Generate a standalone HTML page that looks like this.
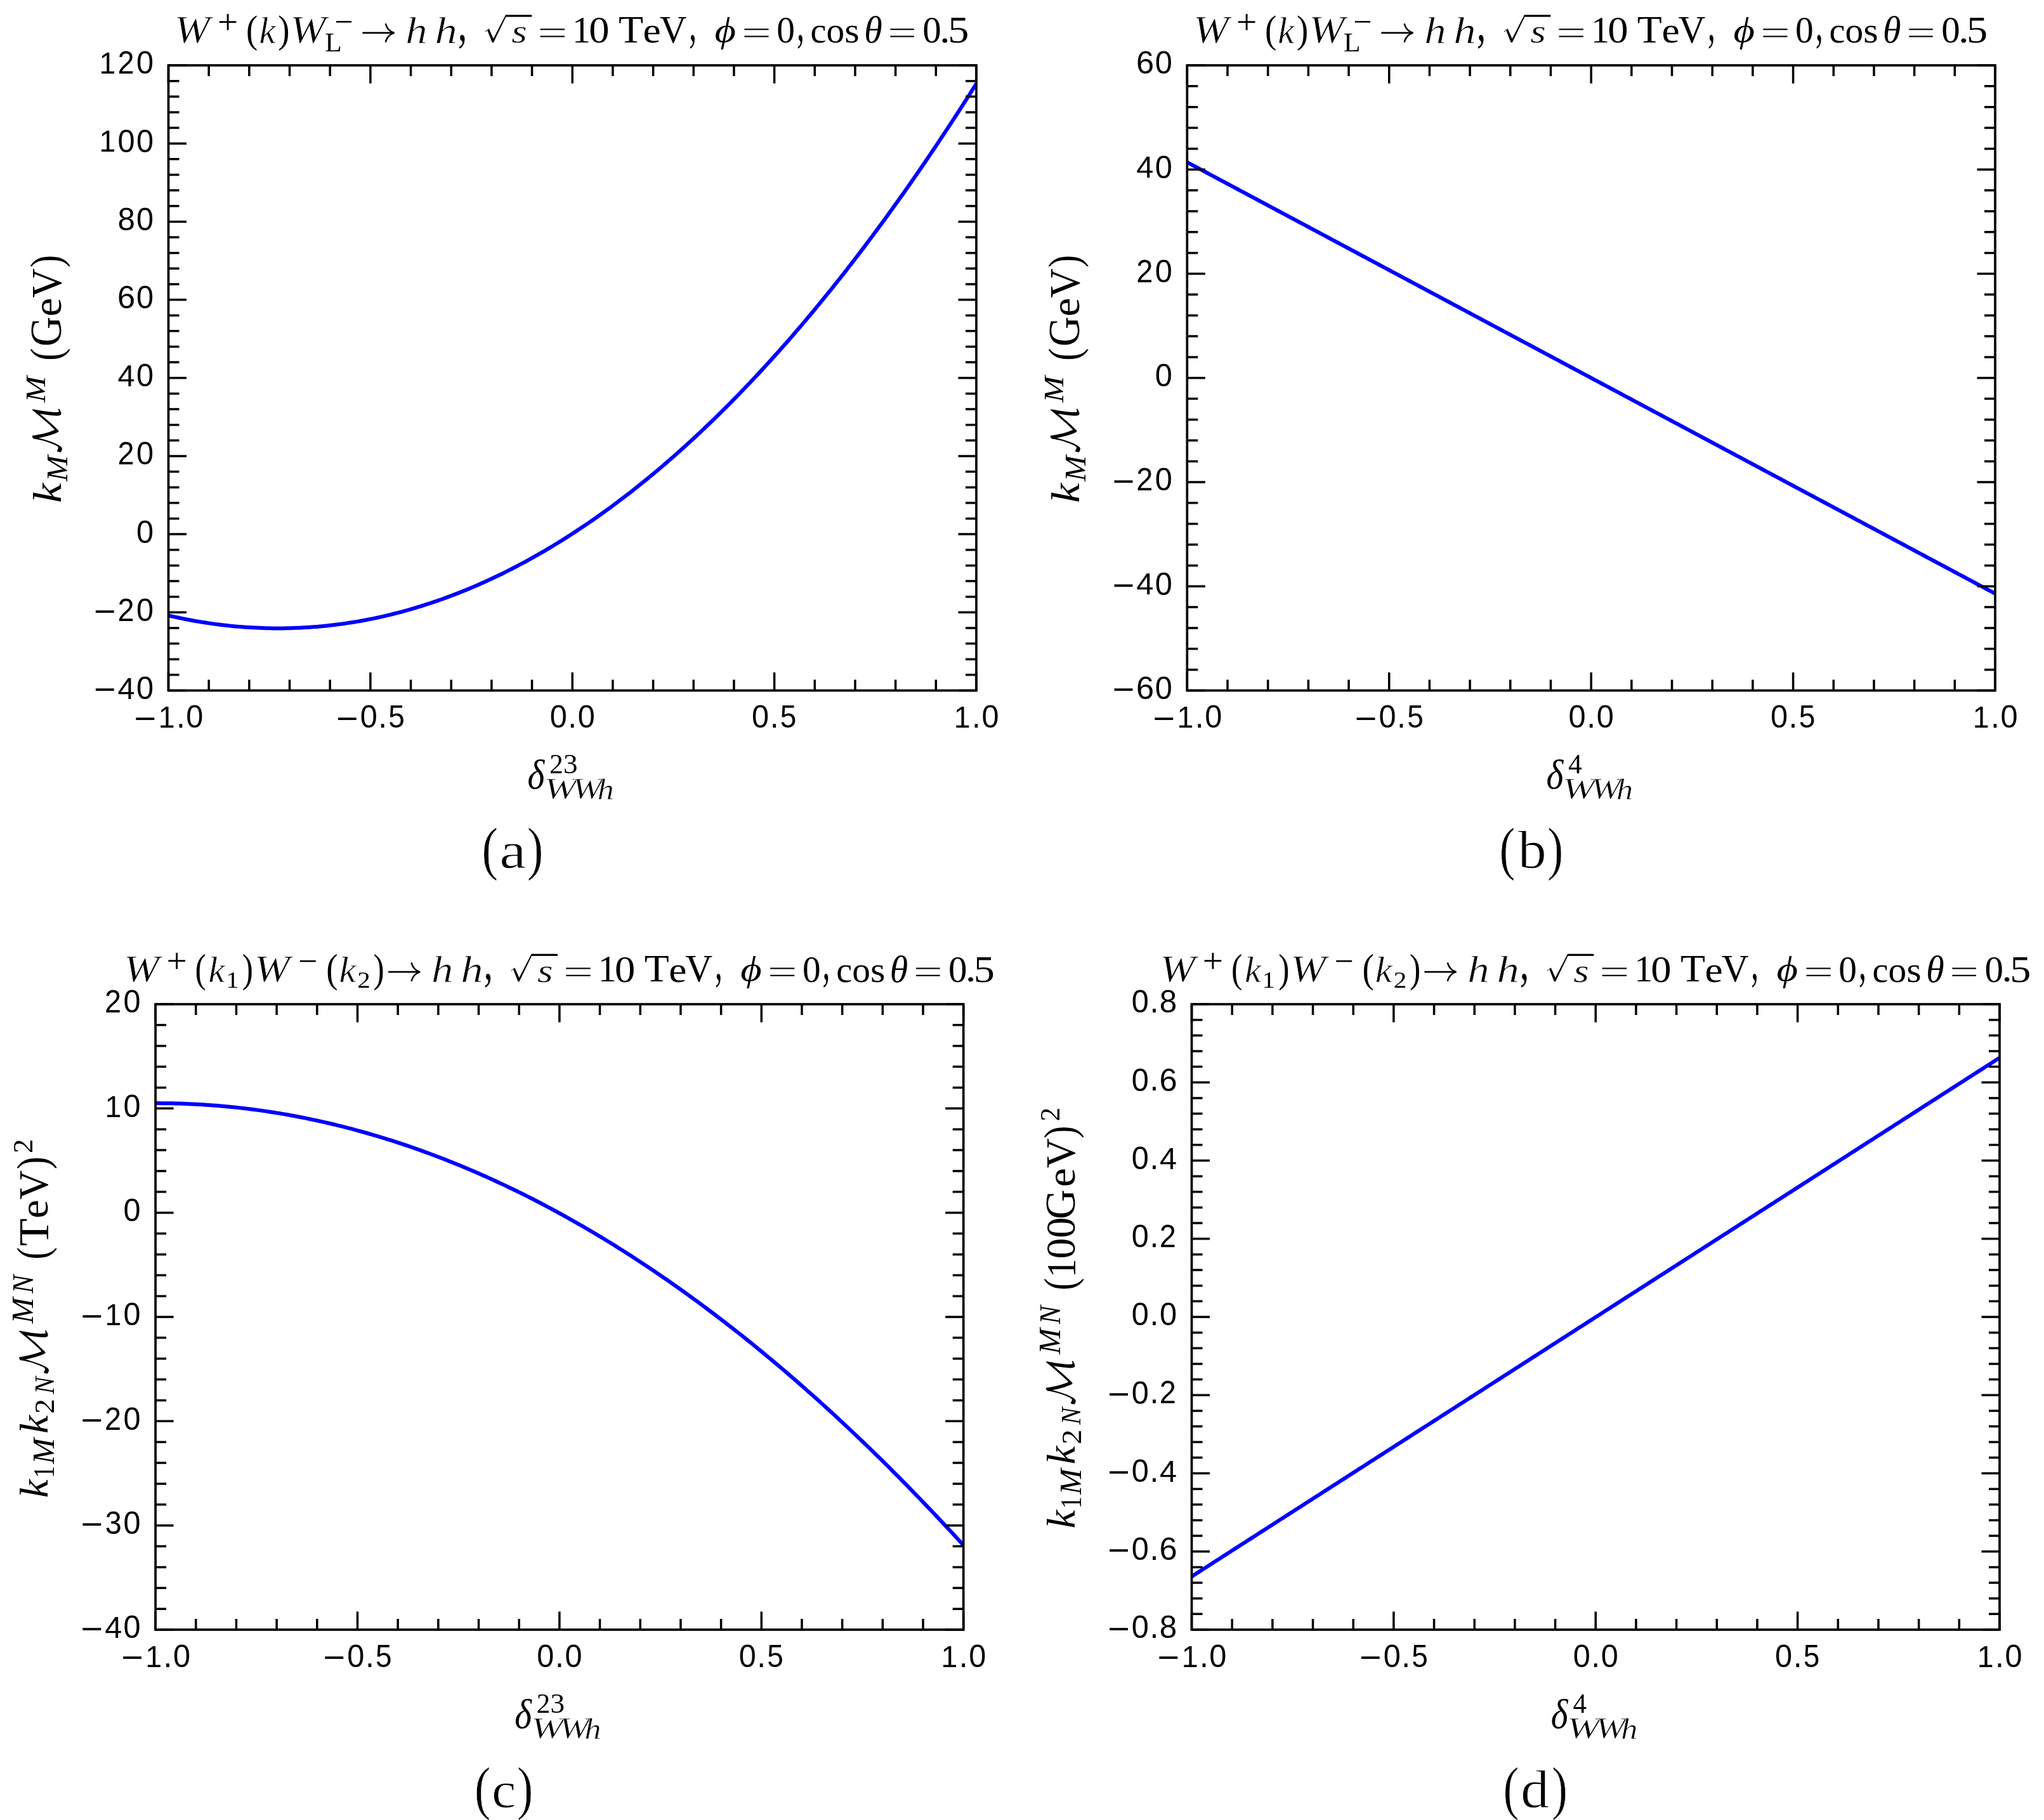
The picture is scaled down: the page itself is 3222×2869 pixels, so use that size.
<!DOCTYPE html>
<html><head><meta charset="utf-8"><title>amplitude plots</title>
<style>html,body{margin:0;padding:0;background:#fff;}svg{display:block;will-change:transform;}</style></head>
<body><svg width="3222" height="2869" viewBox="0 0 3222 2869">
<rect width="3222" height="2869" fill="#fff"/>
<clipPath id="clipa"><rect x="265.50" y="103.00" width="1273.50" height="985.50"/></clipPath>
<polyline clip-path="url(#clipa)" fill="none" stroke="#0000ff" stroke-width="6.0" stroke-linejoin="round" points="265.50,970.24 270.81,971.46 276.11,972.64 281.42,973.78 286.73,974.88 292.03,975.95 297.34,976.98 302.64,977.97 307.95,978.93 313.26,979.84 318.56,980.72 323.87,981.56 329.17,982.36 334.48,983.13 339.79,983.85 345.09,984.54 350.40,985.19 355.71,985.81 361.01,986.38 366.32,986.92 371.62,987.42 376.93,987.88 382.24,988.30 387.54,988.68 392.85,989.03 398.16,989.34 403.46,989.61 408.77,989.84 414.08,990.03 419.38,990.19 424.69,990.31 429.99,990.39 435.30,990.43 440.61,990.43 445.91,990.39 451.22,990.32 456.53,990.20 461.83,990.05 467.14,989.86 472.44,989.64 477.75,989.37 483.06,989.06 488.36,988.72 493.67,988.34 498.98,987.92 504.28,987.46 509.59,986.96 514.89,986.42 520.20,985.85 525.51,985.23 530.81,984.58 536.12,983.89 541.42,983.16 546.73,982.39 552.04,981.58 557.34,980.73 562.65,979.85 567.96,978.92 573.26,977.96 578.57,976.96 583.88,975.91 589.18,974.83 594.49,973.71 599.79,972.56 605.10,971.36 610.41,970.12 615.71,968.85 621.02,967.53 626.33,966.18 631.63,964.79 636.94,963.35 642.24,961.88 647.55,960.37 652.86,958.82 658.16,957.23 663.47,955.61 668.77,953.94 674.08,952.23 679.39,950.49 684.69,948.70 690.00,946.88 695.31,945.01 700.61,943.11 705.92,941.16 711.22,939.18 716.53,937.16 721.84,935.10 727.14,933.00 732.45,930.86 737.76,928.68 743.06,926.46 748.37,924.20 753.67,921.90 758.98,919.56 764.29,917.18 769.59,914.76 774.90,912.30 780.21,909.80 785.51,907.27 790.82,904.69 796.12,902.07 801.43,899.41 806.74,896.72 812.04,893.98 817.35,891.20 822.66,888.39 827.96,885.53 833.27,882.63 838.58,879.70 843.88,876.72 849.19,873.70 854.49,870.65 859.80,867.55 865.11,864.41 870.41,861.23 875.72,858.02 881.02,854.76 886.33,851.46 891.64,848.12 896.94,844.74 902.25,841.32 907.56,837.87 912.86,834.37 918.17,830.83 923.48,827.25 928.78,823.63 934.09,819.96 939.39,816.26 944.70,812.52 950.01,808.74 955.31,804.92 960.62,801.05 965.93,797.15 971.23,793.20 976.54,789.22 981.84,785.19 987.15,781.13 992.46,777.02 997.76,772.87 1003.07,768.68 1008.38,764.45 1013.68,760.18 1018.99,755.87 1024.29,751.52 1029.60,747.13 1034.91,742.69 1040.21,738.22 1045.52,733.71 1050.83,729.15 1056.13,724.55 1061.44,719.91 1066.74,715.24 1072.05,710.52 1077.36,705.75 1082.66,700.95 1087.97,696.11 1093.28,691.23 1098.58,686.30 1103.89,681.33 1109.19,676.33 1114.50,671.28 1119.81,666.19 1125.11,661.06 1130.42,655.88 1135.72,650.67 1141.03,645.42 1146.34,640.12 1151.64,634.78 1156.95,629.40 1162.26,623.98 1167.56,618.52 1172.87,613.02 1178.17,607.47 1183.48,601.89 1188.79,596.26 1194.09,590.59 1199.40,584.88 1204.71,579.13 1210.01,573.33 1215.32,567.50 1220.62,561.62 1225.93,555.70 1231.24,549.74 1236.54,543.74 1241.85,537.69 1247.16,531.61 1252.46,525.48 1257.77,519.31 1263.08,513.10 1268.38,506.85 1273.69,500.55 1278.99,494.22 1284.30,487.84 1289.61,481.42 1294.91,474.95 1300.22,468.45 1305.53,461.90 1310.83,455.32 1316.14,448.69 1321.44,442.01 1326.75,435.30 1332.06,428.54 1337.36,421.74 1342.67,414.90 1347.97,408.02 1353.28,401.09 1358.59,394.13 1363.89,387.12 1369.20,380.06 1374.51,372.97 1379.81,365.83 1385.12,358.65 1390.42,351.43 1395.73,344.17 1401.04,336.86 1406.34,329.51 1411.65,322.12 1416.96,314.69 1422.26,307.21 1427.57,299.70 1432.88,292.13 1438.18,284.53 1443.49,276.89 1448.79,269.20 1454.10,261.47 1459.41,253.69 1464.71,245.87 1470.02,238.02 1475.33,230.11 1480.63,222.17 1485.94,214.18 1491.24,206.15 1496.55,198.08 1501.86,189.96 1507.16,181.80 1512.47,173.60 1517.77,165.36 1523.08,157.07 1528.39,148.74 1533.69,140.37 1539.00,131.95"/>
<path fill="none" stroke="#000" stroke-width="3.50" d="M265.50 1088.50v-28.50M265.50 103.00v28.50M329.17 1088.50v-17.00M329.17 103.00v17.00M392.85 1088.50v-17.00M392.85 103.00v17.00M456.53 1088.50v-17.00M456.53 103.00v17.00M520.20 1088.50v-17.00M520.20 103.00v17.00M583.88 1088.50v-28.50M583.88 103.00v28.50M647.55 1088.50v-17.00M647.55 103.00v17.00M711.23 1088.50v-17.00M711.23 103.00v17.00M774.90 1088.50v-17.00M774.90 103.00v17.00M838.58 1088.50v-17.00M838.58 103.00v17.00M902.25 1088.50v-28.50M902.25 103.00v28.50M965.93 1088.50v-17.00M965.93 103.00v17.00M1029.60 1088.50v-17.00M1029.60 103.00v17.00M1093.28 1088.50v-17.00M1093.28 103.00v17.00M1156.95 1088.50v-17.00M1156.95 103.00v17.00M1220.62 1088.50v-28.50M1220.62 103.00v28.50M1284.30 1088.50v-17.00M1284.30 103.00v17.00M1347.98 1088.50v-17.00M1347.98 103.00v17.00M1411.65 1088.50v-17.00M1411.65 103.00v17.00M1475.33 1088.50v-17.00M1475.33 103.00v17.00M1539.00 1088.50v-28.50M1539.00 103.00v28.50M265.50 1088.50h28.50M1539.00 1088.50h-28.50M265.50 1063.86h17.00M1539.00 1063.86h-17.00M265.50 1039.22h17.00M1539.00 1039.22h-17.00M265.50 1014.59h17.00M1539.00 1014.59h-17.00M265.50 989.95h17.00M1539.00 989.95h-17.00M265.50 965.31h28.50M1539.00 965.31h-28.50M265.50 940.67h17.00M1539.00 940.67h-17.00M265.50 916.04h17.00M1539.00 916.04h-17.00M265.50 891.40h17.00M1539.00 891.40h-17.00M265.50 866.76h17.00M1539.00 866.76h-17.00M265.50 842.12h28.50M1539.00 842.12h-28.50M265.50 817.49h17.00M1539.00 817.49h-17.00M265.50 792.85h17.00M1539.00 792.85h-17.00M265.50 768.21h17.00M1539.00 768.21h-17.00M265.50 743.58h17.00M1539.00 743.58h-17.00M265.50 718.94h28.50M1539.00 718.94h-28.50M265.50 694.30h17.00M1539.00 694.30h-17.00M265.50 669.66h17.00M1539.00 669.66h-17.00M265.50 645.02h17.00M1539.00 645.02h-17.00M265.50 620.39h17.00M1539.00 620.39h-17.00M265.50 595.75h28.50M1539.00 595.75h-28.50M265.50 571.11h17.00M1539.00 571.11h-17.00M265.50 546.47h17.00M1539.00 546.47h-17.00M265.50 521.84h17.00M1539.00 521.84h-17.00M265.50 497.20h17.00M1539.00 497.20h-17.00M265.50 472.56h28.50M1539.00 472.56h-28.50M265.50 447.92h17.00M1539.00 447.92h-17.00M265.50 423.29h17.00M1539.00 423.29h-17.00M265.50 398.65h17.00M1539.00 398.65h-17.00M265.50 374.01h17.00M1539.00 374.01h-17.00M265.50 349.38h28.50M1539.00 349.38h-28.50M265.50 324.74h17.00M1539.00 324.74h-17.00M265.50 300.10h17.00M1539.00 300.10h-17.00M265.50 275.46h17.00M1539.00 275.46h-17.00M265.50 250.83h17.00M1539.00 250.83h-17.00M265.50 226.19h28.50M1539.00 226.19h-28.50M265.50 201.55h17.00M1539.00 201.55h-17.00M265.50 176.91h17.00M1539.00 176.91h-17.00M265.50 152.28h17.00M1539.00 152.28h-17.00M265.50 127.64h17.00M1539.00 127.64h-17.00M265.50 103.00h28.50M1539.00 103.00h-28.50"/>
<rect x="265.50" y="103.00" width="1273.50" height="985.50" fill="none" stroke="#000" stroke-width="3.70"/>
<text transform="matrix(0.59526 0 0 0.53795 211.37 1150.71)" font-family='"Liberation Sans", sans-serif' font-style="normal" font-size="100">−</text>
<text transform="matrix(0.46514 0 0 0.48954 249.65 1147.30)" font-family='"Liberation Sans", sans-serif' font-style="normal" font-size="100">1</text>
<text transform="matrix(0.49991 0 0 0.53584 277.89 1147.30)" font-family='"Liberation Sans", sans-serif' font-style="normal" font-size="100">.</text>
<text transform="matrix(0.48701 0 0 0.49354 293.34 1147.47)" font-family='"Liberation Sans", sans-serif' font-style="normal" font-size="100">0</text>
<text transform="matrix(0.59526 0 0 0.53795 529.74 1150.71)" font-family='"Liberation Sans", sans-serif' font-style="normal" font-size="100">−</text>
<text transform="matrix(0.48701 0 0 0.49354 567.64 1147.47)" font-family='"Liberation Sans", sans-serif' font-style="normal" font-size="100">0</text>
<text transform="matrix(0.49991 0 0 0.53584 596.26 1147.30)" font-family='"Liberation Sans", sans-serif' font-style="normal" font-size="100">.</text>
<text transform="matrix(0.45962 0 0 0.49207 612.30 1147.47)" font-family='"Liberation Sans", sans-serif' font-style="normal" font-size="100">5</text>
<text transform="matrix(0.48701 0 0 0.49354 866.66 1147.47)" font-family='"Liberation Sans", sans-serif' font-style="normal" font-size="100">0</text>
<text transform="matrix(0.49991 0 0 0.53584 895.28 1147.30)" font-family='"Liberation Sans", sans-serif' font-style="normal" font-size="100">.</text>
<text transform="matrix(0.48701 0 0 0.49354 910.74 1147.47)" font-family='"Liberation Sans", sans-serif' font-style="normal" font-size="100">0</text>
<text transform="matrix(0.48701 0 0 0.49354 1185.03 1147.47)" font-family='"Liberation Sans", sans-serif' font-style="normal" font-size="100">0</text>
<text transform="matrix(0.49991 0 0 0.53584 1213.66 1147.30)" font-family='"Liberation Sans", sans-serif' font-style="normal" font-size="100">.</text>
<text transform="matrix(0.45962 0 0 0.49207 1229.69 1147.47)" font-family='"Liberation Sans", sans-serif' font-style="normal" font-size="100">5</text>
<text transform="matrix(0.46514 0 0 0.48954 1503.80 1147.30)" font-family='"Liberation Sans", sans-serif' font-style="normal" font-size="100">1</text>
<text transform="matrix(0.49991 0 0 0.53584 1532.03 1147.30)" font-family='"Liberation Sans", sans-serif' font-style="normal" font-size="100">.</text>
<text transform="matrix(0.48701 0 0 0.49354 1547.49 1147.47)" font-family='"Liberation Sans", sans-serif' font-style="normal" font-size="100">0</text>
<text transform="matrix(0.59526 0 0 0.53795 147.66 1105.11)" font-family='"Liberation Sans", sans-serif' font-style="normal" font-size="100">−</text>
<text transform="matrix(0.48707 0 0 0.48954 185.55 1101.70)" font-family='"Liberation Sans", sans-serif' font-style="normal" font-size="100">4</text>
<text transform="matrix(0.48701 0 0 0.49354 214.95 1101.87)" font-family='"Liberation Sans", sans-serif' font-style="normal" font-size="100">0</text>
<text transform="matrix(0.59526 0 0 0.53795 147.66 981.92)" font-family='"Liberation Sans", sans-serif' font-style="normal" font-size="100">−</text>
<text transform="matrix(0.46943 0 0 0.49108 185.44 978.51)" font-family='"Liberation Sans", sans-serif' font-style="normal" font-size="100">2</text>
<text transform="matrix(0.48701 0 0 0.49354 214.95 978.68)" font-family='"Liberation Sans", sans-serif' font-style="normal" font-size="100">0</text>
<text transform="matrix(0.48701 0 0 0.49354 214.95 855.50)" font-family='"Liberation Sans", sans-serif' font-style="normal" font-size="100">0</text>
<text transform="matrix(0.46943 0 0 0.49108 185.44 732.14)" font-family='"Liberation Sans", sans-serif' font-style="normal" font-size="100">2</text>
<text transform="matrix(0.48701 0 0 0.49354 214.95 732.31)" font-family='"Liberation Sans", sans-serif' font-style="normal" font-size="100">0</text>
<text transform="matrix(0.48707 0 0 0.48954 185.55 608.95)" font-family='"Liberation Sans", sans-serif' font-style="normal" font-size="100">4</text>
<text transform="matrix(0.48701 0 0 0.49354 214.95 609.12)" font-family='"Liberation Sans", sans-serif' font-style="normal" font-size="100">0</text>
<text transform="matrix(0.50404 0 0 0.49354 185.08 485.93)" font-family='"Liberation Sans", sans-serif' font-style="normal" font-size="100">6</text>
<text transform="matrix(0.48701 0 0 0.49354 214.95 485.93)" font-family='"Liberation Sans", sans-serif' font-style="normal" font-size="100">0</text>
<text transform="matrix(0.49229 0 0 0.49354 185.41 362.75)" font-family='"Liberation Sans", sans-serif' font-style="normal" font-size="100">8</text>
<text transform="matrix(0.48701 0 0 0.49354 214.95 362.75)" font-family='"Liberation Sans", sans-serif' font-style="normal" font-size="100">0</text>
<text transform="matrix(0.46514 0 0 0.48954 156.55 239.39)" font-family='"Liberation Sans", sans-serif' font-style="normal" font-size="100">1</text>
<text transform="matrix(0.48701 0 0 0.49354 185.56 239.56)" font-family='"Liberation Sans", sans-serif' font-style="normal" font-size="100">0</text>
<text transform="matrix(0.48701 0 0 0.49354 214.95 239.56)" font-family='"Liberation Sans", sans-serif' font-style="normal" font-size="100">0</text>
<text transform="matrix(0.46514 0 0 0.48954 156.55 116.20)" font-family='"Liberation Sans", sans-serif' font-style="normal" font-size="100">1</text>
<text transform="matrix(0.46943 0 0 0.49108 185.44 116.20)" font-family='"Liberation Sans", sans-serif' font-style="normal" font-size="100">2</text>
<text transform="matrix(0.48701 0 0 0.49354 214.95 116.37)" font-family='"Liberation Sans", sans-serif' font-style="normal" font-size="100">0</text>
<clipPath id="clipb"><rect x="1871.30" y="103.00" width="1273.70" height="985.50"/></clipPath>
<polyline clip-path="url(#clipb)" fill="none" stroke="#0000ff" stroke-width="6.0" stroke-linejoin="round" points="1871.30,255.75 1876.61,258.59 1881.91,261.42 1887.22,264.25 1892.53,267.09 1897.84,269.92 1903.14,272.75 1908.45,275.59 1913.76,278.42 1919.06,281.25 1924.37,284.09 1929.68,286.92 1934.98,289.75 1940.29,292.59 1945.60,295.42 1950.91,298.25 1956.21,301.09 1961.52,303.92 1966.83,306.75 1972.13,309.59 1977.44,312.42 1982.75,315.25 1988.06,318.09 1993.36,320.92 1998.67,323.75 2003.98,326.59 2009.28,329.42 2014.59,332.25 2019.90,335.09 2025.21,337.92 2030.51,340.75 2035.82,343.59 2041.13,346.42 2046.43,349.25 2051.74,352.09 2057.05,354.92 2062.36,357.75 2067.66,360.59 2072.97,363.42 2078.28,366.25 2083.58,369.09 2088.89,371.92 2094.20,374.75 2099.50,377.58 2104.81,380.42 2110.12,383.25 2115.43,386.08 2120.73,388.92 2126.04,391.75 2131.35,394.58 2136.65,397.42 2141.96,400.25 2147.27,403.08 2152.58,405.92 2157.88,408.75 2163.19,411.58 2168.50,414.42 2173.80,417.25 2179.11,420.08 2184.42,422.92 2189.72,425.75 2195.03,428.58 2200.34,431.42 2205.65,434.25 2210.95,437.08 2216.26,439.92 2221.57,442.75 2226.87,445.58 2232.18,448.42 2237.49,451.25 2242.80,454.08 2248.10,456.92 2253.41,459.75 2258.72,462.58 2264.02,465.42 2269.33,468.25 2274.64,471.08 2279.95,473.92 2285.25,476.75 2290.56,479.58 2295.87,482.42 2301.17,485.25 2306.48,488.08 2311.79,490.92 2317.09,493.75 2322.40,496.58 2327.71,499.42 2333.02,502.25 2338.32,505.08 2343.63,507.92 2348.94,510.75 2354.24,513.58 2359.55,516.42 2364.86,519.25 2370.17,522.08 2375.47,524.92 2380.78,527.75 2386.09,530.58 2391.39,533.42 2396.70,536.25 2402.01,539.08 2407.32,541.92 2412.62,544.75 2417.93,547.58 2423.24,550.42 2428.54,553.25 2433.85,556.08 2439.16,558.92 2444.47,561.75 2449.77,564.58 2455.08,567.42 2460.39,570.25 2465.69,573.08 2471.00,575.92 2476.31,578.75 2481.61,581.58 2486.92,584.42 2492.23,587.25 2497.54,590.08 2502.84,592.92 2508.15,595.75 2513.46,598.58 2518.76,601.42 2524.07,604.25 2529.38,607.08 2534.69,609.92 2539.99,612.75 2545.30,615.58 2550.61,618.42 2555.91,621.25 2561.22,624.08 2566.53,626.92 2571.84,629.75 2577.14,632.58 2582.45,635.42 2587.76,638.25 2593.06,641.08 2598.37,643.92 2603.68,646.75 2608.98,649.58 2614.29,652.42 2619.60,655.25 2624.91,658.08 2630.21,660.92 2635.52,663.75 2640.83,666.58 2646.13,669.42 2651.44,672.25 2656.75,675.08 2662.06,677.92 2667.36,680.75 2672.67,683.58 2677.98,686.42 2683.28,689.25 2688.59,692.08 2693.90,694.92 2699.20,697.75 2704.51,700.58 2709.82,703.42 2715.13,706.25 2720.43,709.08 2725.74,711.92 2731.05,714.75 2736.35,717.58 2741.66,720.42 2746.97,723.25 2752.28,726.08 2757.58,728.92 2762.89,731.75 2768.20,734.58 2773.50,737.42 2778.81,740.25 2784.12,743.08 2789.43,745.92 2794.73,748.75 2800.04,751.58 2805.35,754.42 2810.65,757.25 2815.96,760.08 2821.27,762.92 2826.57,765.75 2831.88,768.58 2837.19,771.42 2842.50,774.25 2847.80,777.08 2853.11,779.92 2858.42,782.75 2863.72,785.58 2869.03,788.42 2874.34,791.25 2879.65,794.08 2884.95,796.92 2890.26,799.75 2895.57,802.58 2900.87,805.42 2906.18,808.25 2911.49,811.08 2916.80,813.92 2922.10,816.75 2927.41,819.58 2932.72,822.41 2938.02,825.25 2943.33,828.08 2948.64,830.91 2953.94,833.75 2959.25,836.58 2964.56,839.41 2969.87,842.25 2975.17,845.08 2980.48,847.91 2985.79,850.75 2991.09,853.58 2996.40,856.41 3001.71,859.25 3007.02,862.08 3012.32,864.91 3017.63,867.75 3022.94,870.58 3028.24,873.41 3033.55,876.25 3038.86,879.08 3044.17,881.91 3049.47,884.75 3054.78,887.58 3060.09,890.41 3065.39,893.25 3070.70,896.08 3076.01,898.91 3081.32,901.75 3086.62,904.58 3091.93,907.41 3097.24,910.25 3102.54,913.08 3107.85,915.91 3113.16,918.75 3118.46,921.58 3123.77,924.41 3129.08,927.25 3134.39,930.08 3139.69,932.91 3145.00,935.75"/>
<path fill="none" stroke="#000" stroke-width="3.50" d="M1871.30 1088.50v-28.50M1871.30 103.00v28.50M1934.98 1088.50v-17.00M1934.98 103.00v17.00M1998.67 1088.50v-17.00M1998.67 103.00v17.00M2062.36 1088.50v-17.00M2062.36 103.00v17.00M2126.04 1088.50v-17.00M2126.04 103.00v17.00M2189.72 1088.50v-28.50M2189.72 103.00v28.50M2253.41 1088.50v-17.00M2253.41 103.00v17.00M2317.10 1088.50v-17.00M2317.10 103.00v17.00M2380.78 1088.50v-17.00M2380.78 103.00v17.00M2444.47 1088.50v-17.00M2444.47 103.00v17.00M2508.15 1088.50v-28.50M2508.15 103.00v28.50M2571.84 1088.50v-17.00M2571.84 103.00v17.00M2635.52 1088.50v-17.00M2635.52 103.00v17.00M2699.20 1088.50v-17.00M2699.20 103.00v17.00M2762.89 1088.50v-17.00M2762.89 103.00v17.00M2826.57 1088.50v-28.50M2826.57 103.00v28.50M2890.26 1088.50v-17.00M2890.26 103.00v17.00M2953.95 1088.50v-17.00M2953.95 103.00v17.00M3017.63 1088.50v-17.00M3017.63 103.00v17.00M3081.32 1088.50v-17.00M3081.32 103.00v17.00M3145.00 1088.50v-28.50M3145.00 103.00v28.50M1871.30 1088.50h28.50M3145.00 1088.50h-28.50M1871.30 1055.65h17.00M3145.00 1055.65h-17.00M1871.30 1022.80h17.00M3145.00 1022.80h-17.00M1871.30 989.95h17.00M3145.00 989.95h-17.00M1871.30 957.10h17.00M3145.00 957.10h-17.00M1871.30 924.25h28.50M3145.00 924.25h-28.50M1871.30 891.40h17.00M3145.00 891.40h-17.00M1871.30 858.55h17.00M3145.00 858.55h-17.00M1871.30 825.70h17.00M3145.00 825.70h-17.00M1871.30 792.85h17.00M3145.00 792.85h-17.00M1871.30 760.00h28.50M3145.00 760.00h-28.50M1871.30 727.15h17.00M3145.00 727.15h-17.00M1871.30 694.30h17.00M3145.00 694.30h-17.00M1871.30 661.45h17.00M3145.00 661.45h-17.00M1871.30 628.60h17.00M3145.00 628.60h-17.00M1871.30 595.75h28.50M3145.00 595.75h-28.50M1871.30 562.90h17.00M3145.00 562.90h-17.00M1871.30 530.05h17.00M3145.00 530.05h-17.00M1871.30 497.20h17.00M3145.00 497.20h-17.00M1871.30 464.35h17.00M3145.00 464.35h-17.00M1871.30 431.50h28.50M3145.00 431.50h-28.50M1871.30 398.65h17.00M3145.00 398.65h-17.00M1871.30 365.80h17.00M3145.00 365.80h-17.00M1871.30 332.95h17.00M3145.00 332.95h-17.00M1871.30 300.10h17.00M3145.00 300.10h-17.00M1871.30 267.25h28.50M3145.00 267.25h-28.50M1871.30 234.40h17.00M3145.00 234.40h-17.00M1871.30 201.55h17.00M3145.00 201.55h-17.00M1871.30 168.70h17.00M3145.00 168.70h-17.00M1871.30 135.85h17.00M3145.00 135.85h-17.00M1871.30 103.00h28.50M3145.00 103.00h-28.50"/>
<rect x="1871.30" y="103.00" width="1273.70" height="985.50" fill="none" stroke="#000" stroke-width="3.70"/>
<text transform="matrix(0.59526 0 0 0.53795 1817.17 1150.71)" font-family='"Liberation Sans", sans-serif' font-style="normal" font-size="100">−</text>
<text transform="matrix(0.46514 0 0 0.48954 1855.45 1147.30)" font-family='"Liberation Sans", sans-serif' font-style="normal" font-size="100">1</text>
<text transform="matrix(0.49991 0 0 0.53584 1883.69 1147.30)" font-family='"Liberation Sans", sans-serif' font-style="normal" font-size="100">.</text>
<text transform="matrix(0.48701 0 0 0.49354 1899.14 1147.47)" font-family='"Liberation Sans", sans-serif' font-style="normal" font-size="100">0</text>
<text transform="matrix(0.59526 0 0 0.53795 2135.59 1150.71)" font-family='"Liberation Sans", sans-serif' font-style="normal" font-size="100">−</text>
<text transform="matrix(0.48701 0 0 0.49354 2173.49 1147.47)" font-family='"Liberation Sans", sans-serif' font-style="normal" font-size="100">0</text>
<text transform="matrix(0.49991 0 0 0.53584 2202.11 1147.30)" font-family='"Liberation Sans", sans-serif' font-style="normal" font-size="100">.</text>
<text transform="matrix(0.45962 0 0 0.49207 2218.15 1147.47)" font-family='"Liberation Sans", sans-serif' font-style="normal" font-size="100">5</text>
<text transform="matrix(0.48701 0 0 0.49354 2472.56 1147.47)" font-family='"Liberation Sans", sans-serif' font-style="normal" font-size="100">0</text>
<text transform="matrix(0.49991 0 0 0.53584 2501.18 1147.30)" font-family='"Liberation Sans", sans-serif' font-style="normal" font-size="100">.</text>
<text transform="matrix(0.48701 0 0 0.49354 2516.64 1147.47)" font-family='"Liberation Sans", sans-serif' font-style="normal" font-size="100">0</text>
<text transform="matrix(0.48701 0 0 0.49354 2790.98 1147.47)" font-family='"Liberation Sans", sans-serif' font-style="normal" font-size="100">0</text>
<text transform="matrix(0.49991 0 0 0.53584 2819.61 1147.30)" font-family='"Liberation Sans", sans-serif' font-style="normal" font-size="100">.</text>
<text transform="matrix(0.45962 0 0 0.49207 2835.64 1147.47)" font-family='"Liberation Sans", sans-serif' font-style="normal" font-size="100">5</text>
<text transform="matrix(0.46514 0 0 0.48954 3109.80 1147.30)" font-family='"Liberation Sans", sans-serif' font-style="normal" font-size="100">1</text>
<text transform="matrix(0.49991 0 0 0.53584 3138.03 1147.30)" font-family='"Liberation Sans", sans-serif' font-style="normal" font-size="100">.</text>
<text transform="matrix(0.48701 0 0 0.49354 3153.49 1147.47)" font-family='"Liberation Sans", sans-serif' font-style="normal" font-size="100">0</text>
<text transform="matrix(0.59526 0 0 0.53795 1753.46 1105.11)" font-family='"Liberation Sans", sans-serif' font-style="normal" font-size="100">−</text>
<text transform="matrix(0.50404 0 0 0.49354 1790.88 1101.87)" font-family='"Liberation Sans", sans-serif' font-style="normal" font-size="100">6</text>
<text transform="matrix(0.48701 0 0 0.49354 1820.75 1101.87)" font-family='"Liberation Sans", sans-serif' font-style="normal" font-size="100">0</text>
<text transform="matrix(0.59526 0 0 0.53795 1753.46 940.86)" font-family='"Liberation Sans", sans-serif' font-style="normal" font-size="100">−</text>
<text transform="matrix(0.48707 0 0 0.48954 1791.35 937.45)" font-family='"Liberation Sans", sans-serif' font-style="normal" font-size="100">4</text>
<text transform="matrix(0.48701 0 0 0.49354 1820.75 937.62)" font-family='"Liberation Sans", sans-serif' font-style="normal" font-size="100">0</text>
<text transform="matrix(0.59526 0 0 0.53795 1753.46 776.61)" font-family='"Liberation Sans", sans-serif' font-style="normal" font-size="100">−</text>
<text transform="matrix(0.46943 0 0 0.49108 1791.24 773.20)" font-family='"Liberation Sans", sans-serif' font-style="normal" font-size="100">2</text>
<text transform="matrix(0.48701 0 0 0.49354 1820.75 773.37)" font-family='"Liberation Sans", sans-serif' font-style="normal" font-size="100">0</text>
<text transform="matrix(0.48701 0 0 0.49354 1820.75 609.12)" font-family='"Liberation Sans", sans-serif' font-style="normal" font-size="100">0</text>
<text transform="matrix(0.46943 0 0 0.49108 1791.24 444.70)" font-family='"Liberation Sans", sans-serif' font-style="normal" font-size="100">2</text>
<text transform="matrix(0.48701 0 0 0.49354 1820.75 444.87)" font-family='"Liberation Sans", sans-serif' font-style="normal" font-size="100">0</text>
<text transform="matrix(0.48707 0 0 0.48954 1791.35 280.45)" font-family='"Liberation Sans", sans-serif' font-style="normal" font-size="100">4</text>
<text transform="matrix(0.48701 0 0 0.49354 1820.75 280.62)" font-family='"Liberation Sans", sans-serif' font-style="normal" font-size="100">0</text>
<text transform="matrix(0.50404 0 0 0.49354 1790.88 116.37)" font-family='"Liberation Sans", sans-serif' font-style="normal" font-size="100">6</text>
<text transform="matrix(0.48701 0 0 0.49354 1820.75 116.37)" font-family='"Liberation Sans", sans-serif' font-style="normal" font-size="100">0</text>
<clipPath id="clipc"><rect x="245.10" y="1583.00" width="1273.60" height="986.00"/></clipPath>
<polyline clip-path="url(#clipc)" fill="none" stroke="#0000ff" stroke-width="6.0" stroke-linejoin="round" points="245.10,1739.12 250.41,1739.12 255.71,1739.14 261.02,1739.18 266.33,1739.26 271.63,1739.35 276.94,1739.47 282.25,1739.62 287.55,1739.78 292.86,1739.98 298.17,1740.20 303.47,1740.44 308.78,1740.70 314.09,1740.99 319.39,1741.31 324.70,1741.65 330.01,1742.01 335.31,1742.40 340.62,1742.81 345.93,1743.24 351.23,1743.70 356.54,1744.19 361.85,1744.70 367.15,1745.23 372.46,1745.79 377.77,1746.37 383.07,1746.98 388.38,1747.61 393.69,1748.26 398.99,1748.94 404.30,1749.64 409.61,1750.37 414.91,1751.12 420.22,1751.90 425.53,1752.70 430.83,1753.53 436.14,1754.38 441.45,1755.25 446.75,1756.15 452.06,1757.07 457.37,1758.02 462.67,1758.99 467.98,1759.98 473.29,1761.00 478.59,1762.04 483.90,1763.11 489.21,1764.20 494.51,1765.32 499.82,1766.46 505.13,1767.63 510.43,1768.82 515.74,1770.03 521.05,1771.27 526.35,1772.53 531.66,1773.82 536.97,1775.13 542.27,1776.46 547.58,1777.82 552.89,1779.21 558.19,1780.62 563.50,1782.05 568.81,1783.51 574.11,1784.99 579.42,1786.49 584.73,1788.02 590.03,1789.58 595.34,1791.15 600.65,1792.76 605.95,1794.38 611.26,1796.04 616.57,1797.71 621.87,1799.41 627.18,1801.14 632.49,1802.88 637.79,1804.66 643.10,1806.45 648.41,1808.28 653.71,1810.12 659.02,1811.99 664.33,1813.89 669.63,1815.81 674.94,1817.75 680.25,1819.72 685.55,1821.71 690.86,1823.72 696.17,1825.76 701.47,1827.83 706.78,1829.92 712.09,1832.03 717.39,1834.17 722.70,1836.33 728.01,1838.52 733.31,1840.73 738.62,1842.96 743.93,1845.22 749.23,1847.50 754.54,1849.81 759.85,1852.14 765.15,1854.50 770.46,1856.88 775.77,1859.29 781.07,1861.71 786.38,1864.17 791.69,1866.65 796.99,1869.15 802.30,1871.67 807.61,1874.23 812.91,1876.80 818.22,1879.40 823.53,1882.02 828.83,1884.67 834.14,1887.34 839.45,1890.04 844.75,1892.76 850.06,1895.51 855.37,1898.28 860.67,1901.07 865.98,1903.89 871.29,1906.73 876.59,1909.60 881.90,1912.49 887.21,1915.40 892.51,1918.34 897.82,1921.31 903.13,1924.30 908.43,1927.31 913.74,1930.35 919.05,1933.41 924.35,1936.49 929.66,1939.60 934.97,1942.74 940.27,1945.89 945.58,1949.08 950.89,1952.28 956.19,1955.52 961.50,1958.77 966.81,1962.05 972.11,1965.36 977.42,1968.68 982.73,1972.04 988.03,1975.41 993.34,1978.82 998.65,1982.24 1003.95,1985.69 1009.26,1989.17 1014.57,1992.67 1019.87,1996.19 1025.18,1999.74 1030.49,2003.31 1035.79,2006.90 1041.10,2010.52 1046.41,2014.17 1051.71,2017.84 1057.02,2021.53 1062.33,2025.25 1067.63,2028.99 1072.94,2032.76 1078.25,2036.55 1083.55,2040.36 1088.86,2044.20 1094.17,2048.06 1099.47,2051.95 1104.78,2055.86 1110.09,2059.80 1115.39,2063.76 1120.70,2067.74 1126.01,2071.75 1131.31,2075.79 1136.62,2079.85 1141.93,2083.93 1147.23,2088.03 1152.54,2092.16 1157.85,2096.32 1163.15,2100.50 1168.46,2104.70 1173.77,2108.93 1179.07,2113.18 1184.38,2117.46 1189.69,2121.76 1194.99,2126.09 1200.30,2130.44 1205.61,2134.81 1210.91,2139.21 1216.22,2143.63 1221.53,2148.08 1226.83,2152.55 1232.14,2157.04 1237.45,2161.56 1242.75,2166.11 1248.06,2170.68 1253.37,2175.27 1258.67,2179.88 1263.98,2184.53 1269.29,2189.19 1274.59,2193.88 1279.90,2198.60 1285.21,2203.33 1290.51,2208.10 1295.82,2212.88 1301.13,2217.69 1306.43,2222.53 1311.74,2227.39 1317.05,2232.27 1322.35,2237.18 1327.66,2242.12 1332.97,2247.07 1338.27,2252.06 1343.58,2257.06 1348.89,2262.09 1354.19,2267.15 1359.50,2272.22 1364.81,2277.33 1370.11,2282.45 1375.42,2287.61 1380.73,2292.78 1386.03,2297.98 1391.34,2303.21 1396.65,2308.46 1401.95,2313.73 1407.26,2319.03 1412.57,2324.35 1417.87,2329.69 1423.18,2335.07 1428.49,2340.46 1433.79,2345.88 1439.10,2351.32 1444.41,2356.79 1449.71,2362.28 1455.02,2367.80 1460.33,2373.34 1465.63,2378.90 1470.94,2384.49 1476.25,2390.11 1481.55,2395.74 1486.86,2401.41 1492.17,2407.09 1497.47,2412.80 1502.78,2418.54 1508.09,2424.30 1513.39,2430.08 1518.70,2435.89"/>
<path fill="none" stroke="#000" stroke-width="3.50" d="M245.10 2569.00v-28.50M245.10 1583.00v28.50M308.78 2569.00v-17.00M308.78 1583.00v17.00M372.46 2569.00v-17.00M372.46 1583.00v17.00M436.14 2569.00v-17.00M436.14 1583.00v17.00M499.82 2569.00v-17.00M499.82 1583.00v17.00M563.50 2569.00v-28.50M563.50 1583.00v28.50M627.18 2569.00v-17.00M627.18 1583.00v17.00M690.86 2569.00v-17.00M690.86 1583.00v17.00M754.54 2569.00v-17.00M754.54 1583.00v17.00M818.22 2569.00v-17.00M818.22 1583.00v17.00M881.90 2569.00v-28.50M881.90 1583.00v28.50M945.58 2569.00v-17.00M945.58 1583.00v17.00M1009.26 2569.00v-17.00M1009.26 1583.00v17.00M1072.94 2569.00v-17.00M1072.94 1583.00v17.00M1136.62 2569.00v-17.00M1136.62 1583.00v17.00M1200.30 2569.00v-28.50M1200.30 1583.00v28.50M1263.98 2569.00v-17.00M1263.98 1583.00v17.00M1327.66 2569.00v-17.00M1327.66 1583.00v17.00M1391.34 2569.00v-17.00M1391.34 1583.00v17.00M1455.02 2569.00v-17.00M1455.02 1583.00v17.00M1518.70 2569.00v-28.50M1518.70 1583.00v28.50M245.10 2569.00h28.50M1518.70 2569.00h-28.50M245.10 2536.13h17.00M1518.70 2536.13h-17.00M245.10 2503.27h17.00M1518.70 2503.27h-17.00M245.10 2470.40h17.00M1518.70 2470.40h-17.00M245.10 2437.53h17.00M1518.70 2437.53h-17.00M245.10 2404.67h28.50M1518.70 2404.67h-28.50M245.10 2371.80h17.00M1518.70 2371.80h-17.00M245.10 2338.93h17.00M1518.70 2338.93h-17.00M245.10 2306.07h17.00M1518.70 2306.07h-17.00M245.10 2273.20h17.00M1518.70 2273.20h-17.00M245.10 2240.33h28.50M1518.70 2240.33h-28.50M245.10 2207.47h17.00M1518.70 2207.47h-17.00M245.10 2174.60h17.00M1518.70 2174.60h-17.00M245.10 2141.73h17.00M1518.70 2141.73h-17.00M245.10 2108.87h17.00M1518.70 2108.87h-17.00M245.10 2076.00h28.50M1518.70 2076.00h-28.50M245.10 2043.13h17.00M1518.70 2043.13h-17.00M245.10 2010.27h17.00M1518.70 2010.27h-17.00M245.10 1977.40h17.00M1518.70 1977.40h-17.00M245.10 1944.53h17.00M1518.70 1944.53h-17.00M245.10 1911.67h28.50M1518.70 1911.67h-28.50M245.10 1878.80h17.00M1518.70 1878.80h-17.00M245.10 1845.93h17.00M1518.70 1845.93h-17.00M245.10 1813.07h17.00M1518.70 1813.07h-17.00M245.10 1780.20h17.00M1518.70 1780.20h-17.00M245.10 1747.33h28.50M1518.70 1747.33h-28.50M245.10 1714.47h17.00M1518.70 1714.47h-17.00M245.10 1681.60h17.00M1518.70 1681.60h-17.00M245.10 1648.73h17.00M1518.70 1648.73h-17.00M245.10 1615.87h17.00M1518.70 1615.87h-17.00M245.10 1583.00h28.50M1518.70 1583.00h-28.50"/>
<rect x="245.10" y="1583.00" width="1273.60" height="986.00" fill="none" stroke="#000" stroke-width="3.70"/>
<text transform="matrix(0.59526 0 0 0.53795 190.97 2631.21)" font-family='"Liberation Sans", sans-serif' font-style="normal" font-size="100">−</text>
<text transform="matrix(0.46514 0 0 0.48954 229.25 2627.80)" font-family='"Liberation Sans", sans-serif' font-style="normal" font-size="100">1</text>
<text transform="matrix(0.49991 0 0 0.53584 257.49 2627.80)" font-family='"Liberation Sans", sans-serif' font-style="normal" font-size="100">.</text>
<text transform="matrix(0.48701 0 0 0.49354 272.94 2627.97)" font-family='"Liberation Sans", sans-serif' font-style="normal" font-size="100">0</text>
<text transform="matrix(0.59526 0 0 0.53795 509.37 2631.21)" font-family='"Liberation Sans", sans-serif' font-style="normal" font-size="100">−</text>
<text transform="matrix(0.48701 0 0 0.49354 547.26 2627.97)" font-family='"Liberation Sans", sans-serif' font-style="normal" font-size="100">0</text>
<text transform="matrix(0.49991 0 0 0.53584 575.89 2627.80)" font-family='"Liberation Sans", sans-serif' font-style="normal" font-size="100">.</text>
<text transform="matrix(0.45962 0 0 0.49207 591.92 2627.97)" font-family='"Liberation Sans", sans-serif' font-style="normal" font-size="100">5</text>
<text transform="matrix(0.48701 0 0 0.49354 846.31 2627.97)" font-family='"Liberation Sans", sans-serif' font-style="normal" font-size="100">0</text>
<text transform="matrix(0.49991 0 0 0.53584 874.93 2627.80)" font-family='"Liberation Sans", sans-serif' font-style="normal" font-size="100">.</text>
<text transform="matrix(0.48701 0 0 0.49354 890.39 2627.97)" font-family='"Liberation Sans", sans-serif' font-style="normal" font-size="100">0</text>
<text transform="matrix(0.48701 0 0 0.49354 1164.71 2627.97)" font-family='"Liberation Sans", sans-serif' font-style="normal" font-size="100">0</text>
<text transform="matrix(0.49991 0 0 0.53584 1193.33 2627.80)" font-family='"Liberation Sans", sans-serif' font-style="normal" font-size="100">.</text>
<text transform="matrix(0.45962 0 0 0.49207 1209.37 2627.97)" font-family='"Liberation Sans", sans-serif' font-style="normal" font-size="100">5</text>
<text transform="matrix(0.46514 0 0 0.48954 1483.50 2627.80)" font-family='"Liberation Sans", sans-serif' font-style="normal" font-size="100">1</text>
<text transform="matrix(0.49991 0 0 0.53584 1511.73 2627.80)" font-family='"Liberation Sans", sans-serif' font-style="normal" font-size="100">.</text>
<text transform="matrix(0.48701 0 0 0.49354 1527.19 2627.97)" font-family='"Liberation Sans", sans-serif' font-style="normal" font-size="100">0</text>
<text transform="matrix(0.59526 0 0 0.53795 127.26 2585.61)" font-family='"Liberation Sans", sans-serif' font-style="normal" font-size="100">−</text>
<text transform="matrix(0.48707 0 0 0.48954 165.15 2582.20)" font-family='"Liberation Sans", sans-serif' font-style="normal" font-size="100">4</text>
<text transform="matrix(0.48701 0 0 0.49354 194.55 2582.37)" font-family='"Liberation Sans", sans-serif' font-style="normal" font-size="100">0</text>
<text transform="matrix(0.59526 0 0 0.53795 127.26 2421.27)" font-family='"Liberation Sans", sans-serif' font-style="normal" font-size="100">−</text>
<text transform="matrix(0.46771 0 0 0.49354 165.75 2418.04)" font-family='"Liberation Sans", sans-serif' font-style="normal" font-size="100">3</text>
<text transform="matrix(0.48701 0 0 0.49354 194.55 2418.04)" font-family='"Liberation Sans", sans-serif' font-style="normal" font-size="100">0</text>
<text transform="matrix(0.59526 0 0 0.53795 127.26 2256.94)" font-family='"Liberation Sans", sans-serif' font-style="normal" font-size="100">−</text>
<text transform="matrix(0.46943 0 0 0.49108 165.04 2253.53)" font-family='"Liberation Sans", sans-serif' font-style="normal" font-size="100">2</text>
<text transform="matrix(0.48701 0 0 0.49354 194.55 2253.71)" font-family='"Liberation Sans", sans-serif' font-style="normal" font-size="100">0</text>
<text transform="matrix(0.59526 0 0 0.53795 127.26 2092.61)" font-family='"Liberation Sans", sans-serif' font-style="normal" font-size="100">−</text>
<text transform="matrix(0.46514 0 0 0.48954 165.54 2089.20)" font-family='"Liberation Sans", sans-serif' font-style="normal" font-size="100">1</text>
<text transform="matrix(0.48701 0 0 0.49354 194.55 2089.37)" font-family='"Liberation Sans", sans-serif' font-style="normal" font-size="100">0</text>
<text transform="matrix(0.48701 0 0 0.49354 194.55 1925.04)" font-family='"Liberation Sans", sans-serif' font-style="normal" font-size="100">0</text>
<text transform="matrix(0.46514 0 0 0.48954 165.54 1760.53)" font-family='"Liberation Sans", sans-serif' font-style="normal" font-size="100">1</text>
<text transform="matrix(0.48701 0 0 0.49354 194.55 1760.71)" font-family='"Liberation Sans", sans-serif' font-style="normal" font-size="100">0</text>
<text transform="matrix(0.46943 0 0 0.49108 165.04 1596.20)" font-family='"Liberation Sans", sans-serif' font-style="normal" font-size="100">2</text>
<text transform="matrix(0.48701 0 0 0.49354 194.55 1596.37)" font-family='"Liberation Sans", sans-serif' font-style="normal" font-size="100">0</text>
<clipPath id="clipd"><rect x="1878.50" y="1583.00" width="1273.50" height="986.00"/></clipPath>
<polyline clip-path="url(#clipd)" fill="none" stroke="#0000ff" stroke-width="6.0" stroke-linejoin="round" points="1878.50,2485.19 1883.81,2481.78 1889.11,2478.38 1894.42,2474.97 1899.72,2471.56 1905.03,2468.15 1910.34,2464.75 1915.64,2461.34 1920.95,2457.93 1926.26,2454.52 1931.56,2451.12 1936.87,2447.71 1942.17,2444.30 1947.48,2440.89 1952.79,2437.49 1958.09,2434.08 1963.40,2430.67 1968.71,2427.27 1974.01,2423.86 1979.32,2420.45 1984.62,2417.04 1989.93,2413.64 1995.24,2410.23 2000.54,2406.82 2005.85,2403.41 2011.16,2400.01 2016.46,2396.60 2021.77,2393.19 2027.08,2389.78 2032.38,2386.38 2037.69,2382.97 2042.99,2379.56 2048.30,2376.15 2053.61,2372.75 2058.91,2369.34 2064.22,2365.93 2069.53,2362.53 2074.83,2359.12 2080.14,2355.71 2085.44,2352.30 2090.75,2348.90 2096.06,2345.49 2101.36,2342.08 2106.67,2338.67 2111.97,2335.27 2117.28,2331.86 2122.59,2328.45 2127.89,2325.04 2133.20,2321.64 2138.51,2318.23 2143.81,2314.82 2149.12,2311.42 2154.43,2308.01 2159.73,2304.60 2165.04,2301.19 2170.34,2297.79 2175.65,2294.38 2180.96,2290.97 2186.26,2287.56 2191.57,2284.16 2196.88,2280.75 2202.18,2277.34 2207.49,2273.93 2212.79,2270.53 2218.10,2267.12 2223.41,2263.71 2228.71,2260.30 2234.02,2256.90 2239.32,2253.49 2244.63,2250.08 2249.94,2246.68 2255.24,2243.27 2260.55,2239.86 2265.86,2236.45 2271.16,2233.05 2276.47,2229.64 2281.78,2226.23 2287.08,2222.82 2292.39,2219.42 2297.69,2216.01 2303.00,2212.60 2308.31,2209.19 2313.61,2205.79 2318.92,2202.38 2324.22,2198.97 2329.53,2195.57 2334.84,2192.16 2340.14,2188.75 2345.45,2185.34 2350.76,2181.94 2356.06,2178.53 2361.37,2175.12 2366.68,2171.71 2371.98,2168.31 2377.29,2164.90 2382.59,2161.49 2387.90,2158.08 2393.21,2154.68 2398.51,2151.27 2403.82,2147.86 2409.12,2144.46 2414.43,2141.05 2419.74,2137.64 2425.04,2134.23 2430.35,2130.83 2435.66,2127.42 2440.96,2124.01 2446.27,2120.60 2451.57,2117.20 2456.88,2113.79 2462.19,2110.38 2467.49,2106.97 2472.80,2103.57 2478.11,2100.16 2483.41,2096.75 2488.72,2093.34 2494.03,2089.94 2499.33,2086.53 2504.64,2083.12 2509.94,2079.72 2515.25,2076.31 2520.56,2072.90 2525.86,2069.49 2531.17,2066.09 2536.47,2062.68 2541.78,2059.27 2547.09,2055.86 2552.39,2052.46 2557.70,2049.05 2563.01,2045.64 2568.31,2042.23 2573.62,2038.83 2578.93,2035.42 2584.23,2032.01 2589.54,2028.61 2594.84,2025.20 2600.15,2021.79 2605.46,2018.38 2610.76,2014.98 2616.07,2011.57 2621.38,2008.16 2626.68,2004.75 2631.99,2001.35 2637.29,1997.94 2642.60,1994.53 2647.91,1991.12 2653.21,1987.72 2658.52,1984.31 2663.82,1980.90 2669.13,1977.50 2674.44,1974.09 2679.74,1970.68 2685.05,1967.27 2690.36,1963.87 2695.66,1960.46 2700.97,1957.05 2706.28,1953.64 2711.58,1950.24 2716.89,1946.83 2722.19,1943.42 2727.50,1940.01 2732.81,1936.61 2738.11,1933.20 2743.42,1929.79 2748.72,1926.38 2754.03,1922.98 2759.34,1919.57 2764.64,1916.16 2769.95,1912.76 2775.26,1909.35 2780.56,1905.94 2785.87,1902.53 2791.18,1899.13 2796.48,1895.72 2801.79,1892.31 2807.09,1888.90 2812.40,1885.50 2817.71,1882.09 2823.01,1878.68 2828.32,1875.27 2833.62,1871.87 2838.93,1868.46 2844.24,1865.05 2849.54,1861.65 2854.85,1858.24 2860.16,1854.83 2865.46,1851.42 2870.77,1848.02 2876.07,1844.61 2881.38,1841.20 2886.69,1837.79 2891.99,1834.39 2897.30,1830.98 2902.61,1827.57 2907.91,1824.16 2913.22,1820.76 2918.53,1817.35 2923.83,1813.94 2929.14,1810.53 2934.44,1807.13 2939.75,1803.72 2945.06,1800.31 2950.36,1796.91 2955.67,1793.50 2960.97,1790.09 2966.28,1786.68 2971.59,1783.28 2976.89,1779.87 2982.20,1776.46 2987.51,1773.05 2992.81,1769.65 2998.12,1766.24 3003.43,1762.83 3008.73,1759.42 3014.04,1756.02 3019.34,1752.61 3024.65,1749.20 3029.96,1745.80 3035.26,1742.39 3040.57,1738.98 3045.88,1735.57 3051.18,1732.17 3056.49,1728.76 3061.79,1725.35 3067.10,1721.94 3072.41,1718.54 3077.71,1715.13 3083.02,1711.72 3088.32,1708.31 3093.63,1704.91 3098.94,1701.50 3104.24,1698.09 3109.55,1694.69 3114.86,1691.28 3120.16,1687.87 3125.47,1684.46 3130.77,1681.06 3136.08,1677.65 3141.39,1674.24 3146.69,1670.83 3152.00,1667.43"/>
<path fill="none" stroke="#000" stroke-width="3.50" d="M1878.50 2569.00v-28.50M1878.50 1583.00v28.50M1942.17 2569.00v-17.00M1942.17 1583.00v17.00M2005.85 2569.00v-17.00M2005.85 1583.00v17.00M2069.53 2569.00v-17.00M2069.53 1583.00v17.00M2133.20 2569.00v-17.00M2133.20 1583.00v17.00M2196.88 2569.00v-28.50M2196.88 1583.00v28.50M2260.55 2569.00v-17.00M2260.55 1583.00v17.00M2324.22 2569.00v-17.00M2324.22 1583.00v17.00M2387.90 2569.00v-17.00M2387.90 1583.00v17.00M2451.57 2569.00v-17.00M2451.57 1583.00v17.00M2515.25 2569.00v-28.50M2515.25 1583.00v28.50M2578.93 2569.00v-17.00M2578.93 1583.00v17.00M2642.60 2569.00v-17.00M2642.60 1583.00v17.00M2706.28 2569.00v-17.00M2706.28 1583.00v17.00M2769.95 2569.00v-17.00M2769.95 1583.00v17.00M2833.62 2569.00v-28.50M2833.62 1583.00v28.50M2897.30 2569.00v-17.00M2897.30 1583.00v17.00M2960.98 2569.00v-17.00M2960.98 1583.00v17.00M3024.65 2569.00v-17.00M3024.65 1583.00v17.00M3088.32 2569.00v-17.00M3088.32 1583.00v17.00M3152.00 2569.00v-28.50M3152.00 1583.00v28.50M1878.50 2569.00h28.50M3152.00 2569.00h-28.50M1878.50 2544.35h17.00M3152.00 2544.35h-17.00M1878.50 2519.70h17.00M3152.00 2519.70h-17.00M1878.50 2495.05h17.00M3152.00 2495.05h-17.00M1878.50 2470.40h17.00M3152.00 2470.40h-17.00M1878.50 2445.75h28.50M3152.00 2445.75h-28.50M1878.50 2421.10h17.00M3152.00 2421.10h-17.00M1878.50 2396.45h17.00M3152.00 2396.45h-17.00M1878.50 2371.80h17.00M3152.00 2371.80h-17.00M1878.50 2347.15h17.00M3152.00 2347.15h-17.00M1878.50 2322.50h28.50M3152.00 2322.50h-28.50M1878.50 2297.85h17.00M3152.00 2297.85h-17.00M1878.50 2273.20h17.00M3152.00 2273.20h-17.00M1878.50 2248.55h17.00M3152.00 2248.55h-17.00M1878.50 2223.90h17.00M3152.00 2223.90h-17.00M1878.50 2199.25h28.50M3152.00 2199.25h-28.50M1878.50 2174.60h17.00M3152.00 2174.60h-17.00M1878.50 2149.95h17.00M3152.00 2149.95h-17.00M1878.50 2125.30h17.00M3152.00 2125.30h-17.00M1878.50 2100.65h17.00M3152.00 2100.65h-17.00M1878.50 2076.00h28.50M3152.00 2076.00h-28.50M1878.50 2051.35h17.00M3152.00 2051.35h-17.00M1878.50 2026.70h17.00M3152.00 2026.70h-17.00M1878.50 2002.05h17.00M3152.00 2002.05h-17.00M1878.50 1977.40h17.00M3152.00 1977.40h-17.00M1878.50 1952.75h28.50M3152.00 1952.75h-28.50M1878.50 1928.10h17.00M3152.00 1928.10h-17.00M1878.50 1903.45h17.00M3152.00 1903.45h-17.00M1878.50 1878.80h17.00M3152.00 1878.80h-17.00M1878.50 1854.15h17.00M3152.00 1854.15h-17.00M1878.50 1829.50h28.50M3152.00 1829.50h-28.50M1878.50 1804.85h17.00M3152.00 1804.85h-17.00M1878.50 1780.20h17.00M3152.00 1780.20h-17.00M1878.50 1755.55h17.00M3152.00 1755.55h-17.00M1878.50 1730.90h17.00M3152.00 1730.90h-17.00M1878.50 1706.25h28.50M3152.00 1706.25h-28.50M1878.50 1681.60h17.00M3152.00 1681.60h-17.00M1878.50 1656.95h17.00M3152.00 1656.95h-17.00M1878.50 1632.30h17.00M3152.00 1632.30h-17.00M1878.50 1607.65h17.00M3152.00 1607.65h-17.00M1878.50 1583.00h28.50M3152.00 1583.00h-28.50"/>
<rect x="1878.50" y="1583.00" width="1273.50" height="986.00" fill="none" stroke="#000" stroke-width="3.70"/>
<text transform="matrix(0.59526 0 0 0.53795 1824.37 2631.21)" font-family='"Liberation Sans", sans-serif' font-style="normal" font-size="100">−</text>
<text transform="matrix(0.46514 0 0 0.48954 1862.65 2627.80)" font-family='"Liberation Sans", sans-serif' font-style="normal" font-size="100">1</text>
<text transform="matrix(0.49991 0 0 0.53584 1890.89 2627.80)" font-family='"Liberation Sans", sans-serif' font-style="normal" font-size="100">.</text>
<text transform="matrix(0.48701 0 0 0.49354 1906.34 2627.97)" font-family='"Liberation Sans", sans-serif' font-style="normal" font-size="100">0</text>
<text transform="matrix(0.59526 0 0 0.53795 2142.74 2631.21)" font-family='"Liberation Sans", sans-serif' font-style="normal" font-size="100">−</text>
<text transform="matrix(0.48701 0 0 0.49354 2180.64 2627.97)" font-family='"Liberation Sans", sans-serif' font-style="normal" font-size="100">0</text>
<text transform="matrix(0.49991 0 0 0.53584 2209.26 2627.80)" font-family='"Liberation Sans", sans-serif' font-style="normal" font-size="100">.</text>
<text transform="matrix(0.45962 0 0 0.49207 2225.30 2627.97)" font-family='"Liberation Sans", sans-serif' font-style="normal" font-size="100">5</text>
<text transform="matrix(0.48701 0 0 0.49354 2479.66 2627.97)" font-family='"Liberation Sans", sans-serif' font-style="normal" font-size="100">0</text>
<text transform="matrix(0.49991 0 0 0.53584 2508.28 2627.80)" font-family='"Liberation Sans", sans-serif' font-style="normal" font-size="100">.</text>
<text transform="matrix(0.48701 0 0 0.49354 2523.74 2627.97)" font-family='"Liberation Sans", sans-serif' font-style="normal" font-size="100">0</text>
<text transform="matrix(0.48701 0 0 0.49354 2798.03 2627.97)" font-family='"Liberation Sans", sans-serif' font-style="normal" font-size="100">0</text>
<text transform="matrix(0.49991 0 0 0.53584 2826.66 2627.80)" font-family='"Liberation Sans", sans-serif' font-style="normal" font-size="100">.</text>
<text transform="matrix(0.45962 0 0 0.49207 2842.69 2627.97)" font-family='"Liberation Sans", sans-serif' font-style="normal" font-size="100">5</text>
<text transform="matrix(0.46514 0 0 0.48954 3116.80 2627.80)" font-family='"Liberation Sans", sans-serif' font-style="normal" font-size="100">1</text>
<text transform="matrix(0.49991 0 0 0.53584 3145.03 2627.80)" font-family='"Liberation Sans", sans-serif' font-style="normal" font-size="100">.</text>
<text transform="matrix(0.48701 0 0 0.49354 3160.49 2627.97)" font-family='"Liberation Sans", sans-serif' font-style="normal" font-size="100">0</text>
<text transform="matrix(0.59526 0 0 0.53795 1745.98 2585.61)" font-family='"Liberation Sans", sans-serif' font-style="normal" font-size="100">−</text>
<text transform="matrix(0.48701 0 0 0.49354 1783.87 2582.37)" font-family='"Liberation Sans", sans-serif' font-style="normal" font-size="100">0</text>
<text transform="matrix(0.49991 0 0 0.53584 1812.50 2582.20)" font-family='"Liberation Sans", sans-serif' font-style="normal" font-size="100">.</text>
<text transform="matrix(0.49229 0 0 0.49354 1827.80 2582.37)" font-family='"Liberation Sans", sans-serif' font-style="normal" font-size="100">8</text>
<text transform="matrix(0.59526 0 0 0.53795 1745.98 2462.36)" font-family='"Liberation Sans", sans-serif' font-style="normal" font-size="100">−</text>
<text transform="matrix(0.48701 0 0 0.49354 1783.87 2459.12)" font-family='"Liberation Sans", sans-serif' font-style="normal" font-size="100">0</text>
<text transform="matrix(0.49991 0 0 0.53584 1812.50 2458.95)" font-family='"Liberation Sans", sans-serif' font-style="normal" font-size="100">.</text>
<text transform="matrix(0.50404 0 0 0.49354 1827.47 2459.12)" font-family='"Liberation Sans", sans-serif' font-style="normal" font-size="100">6</text>
<text transform="matrix(0.59526 0 0 0.53795 1745.98 2339.11)" font-family='"Liberation Sans", sans-serif' font-style="normal" font-size="100">−</text>
<text transform="matrix(0.48701 0 0 0.49354 1783.87 2335.87)" font-family='"Liberation Sans", sans-serif' font-style="normal" font-size="100">0</text>
<text transform="matrix(0.49991 0 0 0.53584 1812.50 2335.70)" font-family='"Liberation Sans", sans-serif' font-style="normal" font-size="100">.</text>
<text transform="matrix(0.48707 0 0 0.48954 1827.94 2335.70)" font-family='"Liberation Sans", sans-serif' font-style="normal" font-size="100">4</text>
<text transform="matrix(0.59526 0 0 0.53795 1745.98 2215.86)" font-family='"Liberation Sans", sans-serif' font-style="normal" font-size="100">−</text>
<text transform="matrix(0.48701 0 0 0.49354 1783.87 2212.62)" font-family='"Liberation Sans", sans-serif' font-style="normal" font-size="100">0</text>
<text transform="matrix(0.49991 0 0 0.53584 1812.50 2212.45)" font-family='"Liberation Sans", sans-serif' font-style="normal" font-size="100">.</text>
<text transform="matrix(0.46943 0 0 0.49108 1827.83 2212.45)" font-family='"Liberation Sans", sans-serif' font-style="normal" font-size="100">2</text>
<text transform="matrix(0.48701 0 0 0.49354 1783.87 2089.37)" font-family='"Liberation Sans", sans-serif' font-style="normal" font-size="100">0</text>
<text transform="matrix(0.49991 0 0 0.53584 1812.50 2089.20)" font-family='"Liberation Sans", sans-serif' font-style="normal" font-size="100">.</text>
<text transform="matrix(0.48701 0 0 0.49354 1827.95 2089.37)" font-family='"Liberation Sans", sans-serif' font-style="normal" font-size="100">0</text>
<text transform="matrix(0.48701 0 0 0.49354 1783.87 1966.12)" font-family='"Liberation Sans", sans-serif' font-style="normal" font-size="100">0</text>
<text transform="matrix(0.49991 0 0 0.53584 1812.50 1965.95)" font-family='"Liberation Sans", sans-serif' font-style="normal" font-size="100">.</text>
<text transform="matrix(0.46943 0 0 0.49108 1827.83 1965.95)" font-family='"Liberation Sans", sans-serif' font-style="normal" font-size="100">2</text>
<text transform="matrix(0.48701 0 0 0.49354 1783.87 1842.87)" font-family='"Liberation Sans", sans-serif' font-style="normal" font-size="100">0</text>
<text transform="matrix(0.49991 0 0 0.53584 1812.50 1842.70)" font-family='"Liberation Sans", sans-serif' font-style="normal" font-size="100">.</text>
<text transform="matrix(0.48707 0 0 0.48954 1827.94 1842.70)" font-family='"Liberation Sans", sans-serif' font-style="normal" font-size="100">4</text>
<text transform="matrix(0.48701 0 0 0.49354 1783.87 1719.62)" font-family='"Liberation Sans", sans-serif' font-style="normal" font-size="100">0</text>
<text transform="matrix(0.49991 0 0 0.53584 1812.50 1719.45)" font-family='"Liberation Sans", sans-serif' font-style="normal" font-size="100">.</text>
<text transform="matrix(0.50404 0 0 0.49354 1827.47 1719.62)" font-family='"Liberation Sans", sans-serif' font-style="normal" font-size="100">6</text>
<text transform="matrix(0.48701 0 0 0.49354 1783.87 1596.37)" font-family='"Liberation Sans", sans-serif' font-style="normal" font-size="100">0</text>
<text transform="matrix(0.49991 0 0 0.53584 1812.50 1596.20)" font-family='"Liberation Sans", sans-serif' font-style="normal" font-size="100">.</text>
<text transform="matrix(0.49229 0 0 0.49354 1827.80 1596.37)" font-family='"Liberation Sans", sans-serif' font-style="normal" font-size="100">8</text>
<text transform="matrix(0.66922 0 0 0.60753 274.99 66.98)" font-family='"Liberation Serif", serif' font-style="italic" font-size="100" stroke="#fff" stroke-width="1.10">W</text>
<text transform="matrix(0.57163 0 0 0.55601 343.05 53.11)" font-family='"Liberation Serif", serif' font-style="normal" font-size="100">+</text>
<text transform="matrix(0.54899 0 0 0.62091 388.09 67.18)" font-family='"Liberation Serif", serif' font-style="normal" font-size="100">(</text>
<text transform="matrix(0.58415 0 0 0.58658 408.42 67.90)" font-family='"Liberation Serif", serif' font-style="italic" font-size="100" stroke="#fff" stroke-width="1.20">k</text>
<text transform="matrix(0.54899 0 0 0.62091 438.13 67.18)" font-family='"Liberation Serif", serif' font-style="normal" font-size="100">)</text>
<text transform="matrix(0.67752 0 0 0.60753 457.33 66.98)" font-family='"Liberation Serif", serif' font-style="italic" font-size="100" stroke="#fff" stroke-width="1.09">W</text>
<text transform="matrix(0.43489 0 0 0.41846 512.15 81.20)" font-family='"Liberation Serif", serif' font-style="normal" font-size="100">L</text>
<rect x="529.90" y="33.00" width="24.20" height="2.6"/>
<rect x="571.40" y="50.45" width="47.10" height="2.70"/>
<path d="M608.00 38.10 Q611.50 49.30 621.50 51.80 Q611.50 54.30 608.00 65.60" fill="none" stroke="#000" stroke-width="2.5" stroke-linecap="round"/>
<text transform="matrix(0.68661 0 0 0.58658 639.32 67.90)" font-family='"Liberation Serif", serif' font-style="italic" font-size="100" stroke="#fff" stroke-width="1.26">h</text>
<text transform="matrix(0.70555 0 0 0.58658 685.45 67.90)" font-family='"Liberation Serif", serif' font-style="italic" font-size="100" stroke="#fff" stroke-width="1.24">h</text>
<text transform="matrix(0.57747 0 0 0.85268 721.80 64.18)" font-family='"Liberation Serif", serif' font-style="normal" font-size="100">,</text>
<path d="M765.00 49.60 L769.20 46.20 L770.80 45.20 L777.70 61.00 L797.00 23.40 L798.60 24.20 L777.90 66.90 L775.80 66.90 L768.20 47.70 L765.60 50.40 Z"/>
<rect x="797.00" y="23.40" width="41.30" height="3.2"/>
<text transform="matrix(0.63171 0 0 0.53643 806.23 67.38)" font-family='"Liberation Serif", serif' font-style="italic" font-size="100" stroke="#fff" stroke-width="0.86">s</text>
<rect x="851.60" y="45.20" width="38.40" height="2.10"/>
<rect x="851.60" y="56.40" width="38.40" height="2.10"/>
<text transform="matrix(0.57946 0 0 0.59228 902.11 67.10)" font-family='"Liberation Serif", serif' font-style="normal" font-size="100">1</text>
<text transform="matrix(0.64649 0 0 0.59128 928.24 67.32)" font-family='"Liberation Serif", serif' font-style="normal" font-size="100">0</text>
<text transform="matrix(0.63870 0 0 0.60936 974.95 67.10)" font-family='"Liberation Serif", serif' font-style="normal" font-size="100">T</text>
<text transform="matrix(0.63493 0 0 0.56970 1013.52 67.34)" font-family='"Liberation Serif", serif' font-style="normal" font-size="100">e</text>
<text transform="matrix(0.59311 0 0 0.60753 1039.63 66.98)" font-family='"Liberation Serif", serif' font-style="normal" font-size="100">V</text>
<text transform="matrix(0.47003 0 0 0.85268 1086.21 64.18)" font-family='"Liberation Serif", serif' font-style="normal" font-size="100">,</text>
<text transform="matrix(0.64730 0 0 0.55253 1126.51 65.54)" font-family='"Liberation Serif", serif' font-style="italic" font-size="100">ϕ</text>
<rect x="1173.40" y="45.20" width="38.20" height="2.10"/>
<rect x="1173.40" y="56.40" width="38.20" height="2.10"/>
<text transform="matrix(0.57335 0 0 0.59128 1224.22 67.32)" font-family='"Liberation Serif", serif' font-style="normal" font-size="100">0</text>
<text transform="matrix(0.47675 0 0 0.85268 1255.88 64.18)" font-family='"Liberation Serif", serif' font-style="normal" font-size="100">,</text>
<text transform="matrix(0.56267 0 0 0.56970 1277.56 67.34)" font-family='"Liberation Serif", serif' font-style="normal" font-size="100">c</text>
<text transform="matrix(0.57335 0 0 0.56970 1302.52 67.34)" font-family='"Liberation Serif", serif' font-style="normal" font-size="100">o</text>
<text transform="matrix(0.60254 0 0 0.56970 1331.23 67.34)" font-family='"Liberation Serif", serif' font-style="normal" font-size="100">s</text>
<text transform="matrix(0.58003 0 0 0.58534 1362.17 67.33)" font-family='"Liberation Serif", serif' font-style="italic" font-size="100">θ</text>
<rect x="1403.30" y="45.20" width="37.60" height="2.10"/>
<rect x="1403.30" y="56.40" width="37.60" height="2.10"/>
<text transform="matrix(0.58986 0 0 0.59128 1454.35 67.32)" font-family='"Liberation Serif", serif' font-style="normal" font-size="100">0</text>
<text transform="matrix(0.66856 0 0 0.58393 1481.09 67.07)" font-family='"Liberation Serif", serif' font-style="normal" font-size="100">.</text>
<text transform="matrix(0.66281 0 0 0.60041 1494.15 67.31)" font-family='"Liberation Serif", serif' font-style="normal" font-size="100">5</text>
<text transform="matrix(0.66922 0 0 0.60753 1880.89 66.98)" font-family='"Liberation Serif", serif' font-style="italic" font-size="100" stroke="#fff" stroke-width="1.10">W</text>
<text transform="matrix(0.57163 0 0 0.55601 1948.95 53.11)" font-family='"Liberation Serif", serif' font-style="normal" font-size="100">+</text>
<text transform="matrix(0.54899 0 0 0.62091 1993.99 67.18)" font-family='"Liberation Serif", serif' font-style="normal" font-size="100">(</text>
<text transform="matrix(0.58415 0 0 0.58658 2014.32 67.90)" font-family='"Liberation Serif", serif' font-style="italic" font-size="100" stroke="#fff" stroke-width="1.20">k</text>
<text transform="matrix(0.54899 0 0 0.62091 2044.03 67.18)" font-family='"Liberation Serif", serif' font-style="normal" font-size="100">)</text>
<text transform="matrix(0.67752 0 0 0.60753 2063.23 66.98)" font-family='"Liberation Serif", serif' font-style="italic" font-size="100" stroke="#fff" stroke-width="1.09">W</text>
<text transform="matrix(0.43489 0 0 0.41846 2118.05 81.20)" font-family='"Liberation Serif", serif' font-style="normal" font-size="100">L</text>
<rect x="2135.80" y="33.00" width="24.20" height="2.6"/>
<rect x="2177.30" y="50.45" width="47.10" height="2.70"/>
<path d="M2213.90 38.10 Q2217.40 49.30 2227.40 51.80 Q2217.40 54.30 2213.90 65.60" fill="none" stroke="#000" stroke-width="2.5" stroke-linecap="round"/>
<text transform="matrix(0.68661 0 0 0.58658 2245.22 67.90)" font-family='"Liberation Serif", serif' font-style="italic" font-size="100" stroke="#fff" stroke-width="1.26">h</text>
<text transform="matrix(0.70555 0 0 0.58658 2291.35 67.90)" font-family='"Liberation Serif", serif' font-style="italic" font-size="100" stroke="#fff" stroke-width="1.24">h</text>
<text transform="matrix(0.57747 0 0 0.85268 2327.70 64.18)" font-family='"Liberation Serif", serif' font-style="normal" font-size="100">,</text>
<path d="M2370.90 49.60 L2375.10 46.20 L2376.70 45.20 L2383.60 61.00 L2402.90 23.40 L2404.50 24.20 L2383.80 66.90 L2381.70 66.90 L2374.10 47.70 L2371.50 50.40 Z"/>
<rect x="2402.90" y="23.40" width="41.30" height="3.2"/>
<text transform="matrix(0.63171 0 0 0.53643 2412.13 67.38)" font-family='"Liberation Serif", serif' font-style="italic" font-size="100" stroke="#fff" stroke-width="0.86">s</text>
<rect x="2457.50" y="45.20" width="38.40" height="2.10"/>
<rect x="2457.50" y="56.40" width="38.40" height="2.10"/>
<text transform="matrix(0.57946 0 0 0.59228 2508.01 67.10)" font-family='"Liberation Serif", serif' font-style="normal" font-size="100">1</text>
<text transform="matrix(0.64649 0 0 0.59128 2534.14 67.32)" font-family='"Liberation Serif", serif' font-style="normal" font-size="100">0</text>
<text transform="matrix(0.63870 0 0 0.60936 2580.85 67.10)" font-family='"Liberation Serif", serif' font-style="normal" font-size="100">T</text>
<text transform="matrix(0.63493 0 0 0.56970 2619.42 67.34)" font-family='"Liberation Serif", serif' font-style="normal" font-size="100">e</text>
<text transform="matrix(0.59311 0 0 0.60753 2645.53 66.98)" font-family='"Liberation Serif", serif' font-style="normal" font-size="100">V</text>
<text transform="matrix(0.47003 0 0 0.85268 2692.11 64.18)" font-family='"Liberation Serif", serif' font-style="normal" font-size="100">,</text>
<text transform="matrix(0.64730 0 0 0.55253 2732.41 65.54)" font-family='"Liberation Serif", serif' font-style="italic" font-size="100">ϕ</text>
<rect x="2779.30" y="45.20" width="38.20" height="2.10"/>
<rect x="2779.30" y="56.40" width="38.20" height="2.10"/>
<text transform="matrix(0.57335 0 0 0.59128 2830.12 67.32)" font-family='"Liberation Serif", serif' font-style="normal" font-size="100">0</text>
<text transform="matrix(0.47675 0 0 0.85268 2861.78 64.18)" font-family='"Liberation Serif", serif' font-style="normal" font-size="100">,</text>
<text transform="matrix(0.56267 0 0 0.56970 2883.46 67.34)" font-family='"Liberation Serif", serif' font-style="normal" font-size="100">c</text>
<text transform="matrix(0.57335 0 0 0.56970 2908.42 67.34)" font-family='"Liberation Serif", serif' font-style="normal" font-size="100">o</text>
<text transform="matrix(0.60254 0 0 0.56970 2937.13 67.34)" font-family='"Liberation Serif", serif' font-style="normal" font-size="100">s</text>
<text transform="matrix(0.58003 0 0 0.58534 2968.07 67.33)" font-family='"Liberation Serif", serif' font-style="italic" font-size="100">θ</text>
<rect x="3009.20" y="45.20" width="37.60" height="2.10"/>
<rect x="3009.20" y="56.40" width="37.60" height="2.10"/>
<text transform="matrix(0.58986 0 0 0.59128 3060.25 67.32)" font-family='"Liberation Serif", serif' font-style="normal" font-size="100">0</text>
<text transform="matrix(0.66856 0 0 0.58393 3086.99 67.07)" font-family='"Liberation Serif", serif' font-style="normal" font-size="100">.</text>
<text transform="matrix(0.66281 0 0 0.60041 3100.05 67.31)" font-family='"Liberation Serif", serif' font-style="normal" font-size="100">5</text>
<text transform="matrix(0.66803 0 0 0.59559 195.20 1547.00)" font-family='"Liberation Serif", serif' font-style="italic" font-size="100" stroke="#fff" stroke-width="1.11">W</text>
<text transform="matrix(0.57163 0 0 0.53883 262.45 1532.94)" font-family='"Liberation Serif", serif' font-style="normal" font-size="100">+</text>
<text transform="matrix(0.51784 0 0 0.62973 307.62 1547.79)" font-family='"Liberation Serif", serif' font-style="normal" font-size="100">(</text>
<text transform="matrix(0.58182 0 0 0.57505 328.62 1547.90)" font-family='"Liberation Serif", serif' font-style="italic" font-size="100" stroke="#fff" stroke-width="1.21">k</text>
<text transform="matrix(0.40051 0 0 0.36658 356.48 1556.50)" font-family='"Liberation Serif", serif' font-style="normal" font-size="100">1</text>
<text transform="matrix(0.51784 0 0 0.62973 381.83 1547.79)" font-family='"Liberation Serif", serif' font-style="normal" font-size="100">)</text>
<text transform="matrix(0.66922 0 0 0.59559 400.99 1547.00)" font-family='"Liberation Serif", serif' font-style="italic" font-size="100" stroke="#fff" stroke-width="1.11">W</text>
<rect x="472.80" y="1513.80" width="25.00" height="2.6"/>
<text transform="matrix(0.54899 0 0 0.62973 514.19 1547.79)" font-family='"Liberation Serif", serif' font-style="normal" font-size="100">(</text>
<text transform="matrix(0.60044 0 0 0.57505 534.47 1547.90)" font-family='"Liberation Serif", serif' font-style="italic" font-size="100" stroke="#fff" stroke-width="1.19">k</text>
<text transform="matrix(0.41160 0 0 0.36550 563.29 1556.50)" font-family='"Liberation Serif", serif' font-style="normal" font-size="100">2</text>
<text transform="matrix(0.51784 0 0 0.62973 588.53 1547.79)" font-family='"Liberation Serif", serif' font-style="normal" font-size="100">)</text>
<rect x="612.10" y="1530.75" width="47.10" height="2.70"/>
<path d="M648.70 1518.40 Q652.20 1529.60 662.20 1532.10 Q652.20 1534.60 648.70 1545.90" fill="none" stroke="#000" stroke-width="2.5" stroke-linecap="round"/>
<text transform="matrix(0.68661 0 0 0.58658 680.02 1548.20)" font-family='"Liberation Serif", serif' font-style="italic" font-size="100" stroke="#fff" stroke-width="1.26">h</text>
<text transform="matrix(0.70555 0 0 0.58658 726.15 1548.20)" font-family='"Liberation Serif", serif' font-style="italic" font-size="100" stroke="#fff" stroke-width="1.24">h</text>
<text transform="matrix(0.57747 0 0 0.85268 762.50 1544.48)" font-family='"Liberation Serif", serif' font-style="normal" font-size="100">,</text>
<path d="M805.70 1529.90 L809.90 1526.50 L811.50 1525.50 L818.40 1541.30 L837.70 1503.70 L839.30 1504.50 L818.60 1547.20 L816.50 1547.20 L808.90 1528.00 L806.30 1530.70 Z"/>
<rect x="837.70" y="1503.70" width="41.30" height="3.2"/>
<text transform="matrix(0.63171 0 0 0.53643 846.93 1547.68)" font-family='"Liberation Serif", serif' font-style="italic" font-size="100" stroke="#fff" stroke-width="0.86">s</text>
<rect x="892.30" y="1525.50" width="38.40" height="2.10"/>
<rect x="892.30" y="1536.70" width="38.40" height="2.10"/>
<text transform="matrix(0.57946 0 0 0.59228 942.81 1547.40)" font-family='"Liberation Serif", serif' font-style="normal" font-size="100">1</text>
<text transform="matrix(0.64649 0 0 0.59128 968.94 1547.62)" font-family='"Liberation Serif", serif' font-style="normal" font-size="100">0</text>
<text transform="matrix(0.63870 0 0 0.60936 1015.65 1547.40)" font-family='"Liberation Serif", serif' font-style="normal" font-size="100">T</text>
<text transform="matrix(0.63493 0 0 0.56970 1054.22 1547.64)" font-family='"Liberation Serif", serif' font-style="normal" font-size="100">e</text>
<text transform="matrix(0.59311 0 0 0.60753 1080.33 1547.28)" font-family='"Liberation Serif", serif' font-style="normal" font-size="100">V</text>
<text transform="matrix(0.47003 0 0 0.85268 1126.91 1544.48)" font-family='"Liberation Serif", serif' font-style="normal" font-size="100">,</text>
<text transform="matrix(0.64730 0 0 0.55253 1167.21 1545.84)" font-family='"Liberation Serif", serif' font-style="italic" font-size="100">ϕ</text>
<rect x="1214.10" y="1525.50" width="38.20" height="2.10"/>
<rect x="1214.10" y="1536.70" width="38.20" height="2.10"/>
<text transform="matrix(0.57335 0 0 0.59128 1264.92 1547.62)" font-family='"Liberation Serif", serif' font-style="normal" font-size="100">0</text>
<text transform="matrix(0.47675 0 0 0.85268 1296.58 1544.48)" font-family='"Liberation Serif", serif' font-style="normal" font-size="100">,</text>
<text transform="matrix(0.56267 0 0 0.56970 1318.26 1547.64)" font-family='"Liberation Serif", serif' font-style="normal" font-size="100">c</text>
<text transform="matrix(0.57335 0 0 0.56970 1343.22 1547.64)" font-family='"Liberation Serif", serif' font-style="normal" font-size="100">o</text>
<text transform="matrix(0.60254 0 0 0.56970 1371.93 1547.64)" font-family='"Liberation Serif", serif' font-style="normal" font-size="100">s</text>
<text transform="matrix(0.58003 0 0 0.58534 1402.87 1547.63)" font-family='"Liberation Serif", serif' font-style="italic" font-size="100">θ</text>
<rect x="1444.00" y="1525.50" width="37.60" height="2.10"/>
<rect x="1444.00" y="1536.70" width="37.60" height="2.10"/>
<text transform="matrix(0.58986 0 0 0.59128 1495.05 1547.62)" font-family='"Liberation Serif", serif' font-style="normal" font-size="100">0</text>
<text transform="matrix(0.66856 0 0 0.58393 1521.79 1547.37)" font-family='"Liberation Serif", serif' font-style="normal" font-size="100">.</text>
<text transform="matrix(0.66281 0 0 0.60041 1534.85 1547.61)" font-family='"Liberation Serif", serif' font-style="normal" font-size="100">5</text>
<text transform="matrix(0.66803 0 0 0.59559 1828.55 1547.00)" font-family='"Liberation Serif", serif' font-style="italic" font-size="100" stroke="#fff" stroke-width="1.11">W</text>
<text transform="matrix(0.57163 0 0 0.53883 1895.80 1532.94)" font-family='"Liberation Serif", serif' font-style="normal" font-size="100">+</text>
<text transform="matrix(0.51784 0 0 0.62973 1940.97 1547.79)" font-family='"Liberation Serif", serif' font-style="normal" font-size="100">(</text>
<text transform="matrix(0.58182 0 0 0.57505 1961.97 1547.90)" font-family='"Liberation Serif", serif' font-style="italic" font-size="100" stroke="#fff" stroke-width="1.21">k</text>
<text transform="matrix(0.40051 0 0 0.36658 1989.83 1556.50)" font-family='"Liberation Serif", serif' font-style="normal" font-size="100">1</text>
<text transform="matrix(0.51784 0 0 0.62973 2015.18 1547.79)" font-family='"Liberation Serif", serif' font-style="normal" font-size="100">)</text>
<text transform="matrix(0.66922 0 0 0.59559 2034.34 1547.00)" font-family='"Liberation Serif", serif' font-style="italic" font-size="100" stroke="#fff" stroke-width="1.11">W</text>
<rect x="2106.15" y="1513.80" width="25.00" height="2.6"/>
<text transform="matrix(0.54899 0 0 0.62973 2147.54 1547.79)" font-family='"Liberation Serif", serif' font-style="normal" font-size="100">(</text>
<text transform="matrix(0.60044 0 0 0.57505 2167.82 1547.90)" font-family='"Liberation Serif", serif' font-style="italic" font-size="100" stroke="#fff" stroke-width="1.19">k</text>
<text transform="matrix(0.41160 0 0 0.36550 2196.64 1556.50)" font-family='"Liberation Serif", serif' font-style="normal" font-size="100">2</text>
<text transform="matrix(0.51784 0 0 0.62973 2221.88 1547.79)" font-family='"Liberation Serif", serif' font-style="normal" font-size="100">)</text>
<rect x="2245.45" y="1530.75" width="47.10" height="2.70"/>
<path d="M2282.05 1518.40 Q2285.55 1529.60 2295.55 1532.10 Q2285.55 1534.60 2282.05 1545.90" fill="none" stroke="#000" stroke-width="2.5" stroke-linecap="round"/>
<text transform="matrix(0.68661 0 0 0.58658 2313.37 1548.20)" font-family='"Liberation Serif", serif' font-style="italic" font-size="100" stroke="#fff" stroke-width="1.26">h</text>
<text transform="matrix(0.70555 0 0 0.58658 2359.50 1548.20)" font-family='"Liberation Serif", serif' font-style="italic" font-size="100" stroke="#fff" stroke-width="1.24">h</text>
<text transform="matrix(0.57747 0 0 0.85268 2395.85 1544.48)" font-family='"Liberation Serif", serif' font-style="normal" font-size="100">,</text>
<path d="M2439.05 1529.90 L2443.25 1526.50 L2444.85 1525.50 L2451.75 1541.30 L2471.05 1503.70 L2472.65 1504.50 L2451.95 1547.20 L2449.85 1547.20 L2442.25 1528.00 L2439.65 1530.70 Z"/>
<rect x="2471.05" y="1503.70" width="41.30" height="3.2"/>
<text transform="matrix(0.63171 0 0 0.53643 2480.28 1547.68)" font-family='"Liberation Serif", serif' font-style="italic" font-size="100" stroke="#fff" stroke-width="0.86">s</text>
<rect x="2525.65" y="1525.50" width="38.40" height="2.10"/>
<rect x="2525.65" y="1536.70" width="38.40" height="2.10"/>
<text transform="matrix(0.57946 0 0 0.59228 2576.16 1547.40)" font-family='"Liberation Serif", serif' font-style="normal" font-size="100">1</text>
<text transform="matrix(0.64649 0 0 0.59128 2602.29 1547.62)" font-family='"Liberation Serif", serif' font-style="normal" font-size="100">0</text>
<text transform="matrix(0.63870 0 0 0.60936 2649.00 1547.40)" font-family='"Liberation Serif", serif' font-style="normal" font-size="100">T</text>
<text transform="matrix(0.63493 0 0 0.56970 2687.57 1547.64)" font-family='"Liberation Serif", serif' font-style="normal" font-size="100">e</text>
<text transform="matrix(0.59311 0 0 0.60753 2713.68 1547.28)" font-family='"Liberation Serif", serif' font-style="normal" font-size="100">V</text>
<text transform="matrix(0.47003 0 0 0.85268 2760.26 1544.48)" font-family='"Liberation Serif", serif' font-style="normal" font-size="100">,</text>
<text transform="matrix(0.64730 0 0 0.55253 2800.56 1545.84)" font-family='"Liberation Serif", serif' font-style="italic" font-size="100">ϕ</text>
<rect x="2847.45" y="1525.50" width="38.20" height="2.10"/>
<rect x="2847.45" y="1536.70" width="38.20" height="2.10"/>
<text transform="matrix(0.57335 0 0 0.59128 2898.27 1547.62)" font-family='"Liberation Serif", serif' font-style="normal" font-size="100">0</text>
<text transform="matrix(0.47675 0 0 0.85268 2929.93 1544.48)" font-family='"Liberation Serif", serif' font-style="normal" font-size="100">,</text>
<text transform="matrix(0.56267 0 0 0.56970 2951.61 1547.64)" font-family='"Liberation Serif", serif' font-style="normal" font-size="100">c</text>
<text transform="matrix(0.57335 0 0 0.56970 2976.57 1547.64)" font-family='"Liberation Serif", serif' font-style="normal" font-size="100">o</text>
<text transform="matrix(0.60254 0 0 0.56970 3005.28 1547.64)" font-family='"Liberation Serif", serif' font-style="normal" font-size="100">s</text>
<text transform="matrix(0.58003 0 0 0.58534 3036.22 1547.63)" font-family='"Liberation Serif", serif' font-style="italic" font-size="100">θ</text>
<rect x="3077.35" y="1525.50" width="37.60" height="2.10"/>
<rect x="3077.35" y="1536.70" width="37.60" height="2.10"/>
<text transform="matrix(0.58986 0 0 0.59128 3128.40 1547.62)" font-family='"Liberation Serif", serif' font-style="normal" font-size="100">0</text>
<text transform="matrix(0.66856 0 0 0.58393 3155.14 1547.37)" font-family='"Liberation Serif", serif' font-style="normal" font-size="100">.</text>
<text transform="matrix(0.66281 0 0 0.60041 3168.20 1547.61)" font-family='"Liberation Serif", serif' font-style="normal" font-size="100">5</text>
<text transform="matrix(0 -0.69818 0.64279 0 96.00 792.71)" font-family='"Liberation Serif", serif' font-style="italic" font-size="100">k</text>
<text transform="matrix(0 -0.48954 0.46886 0 105.70 758.73)" font-family='"Liberation Serif", serif' font-style="italic" font-size="100">M</text>
<path transform="matrix(0.000000 -0.030557 -0.030530 0.000000 94.79 714.58)" d="M55 4Q55 40 80.5 102.0Q106 164 137 164Q139 164 143 162Q174 131 216.5 112.5Q259 94 301 94Q345 94 402.5 204.0Q460 314 512.0 453.5Q564 593 586 662Q623 774 654.5 889.5Q686 1005 709.5 1119.0Q733 1233 750 1358Q750 1370 764 1384Q784 1405 817 1425Q844 1438 877 1444H891Q905 1437 907 1430Q942 1220 985.5 1012.5Q1029 805 1085.5 610.5Q1142 416 1210 279Q1382 443 1524 602Q1640 733 1729.5 837.0Q1819 941 1891.5 1026.5Q1964 1112 2070.0 1239.0Q2176 1366 2222 1423Q2241 1444 2253 1444Q2269 1444 2269 1409Q2269 1381 2257 1339Q2166 889 2126 422Q2120 352 2120 281Q2120 203 2130 111Q2133 69 2179 61Q2235 92 2273 96H2286Q2300 89 2300 80Q2300 39 2199.0 -10.0Q2098 -59 2048 -59H2036Q1972 -59 1954.5 14.5Q1937 88 1937 193Q1937 477 2036 1047Q1898 882 1811.5 779.5Q1725 677 1637.5 576.5Q1550 476 1447.5 366.0Q1345 256 1266 178Q1168 75 1147 70H1133Q1098 87 1036.5 233.5Q975 380 950 465Q902 634 863.0 794.0Q824 954 788 1128Q771 1038 711.0 829.5Q651 621 572.0 408.0Q493 195 404.5 46.5Q316 -102 236 -102Q185 -102 120.0 -71.5Q55 -41 55 4Z"/>
<text transform="matrix(0 -0.49740 0.44748 0 70.70 634.42)" font-family='"Liberation Serif", serif' font-style="italic" font-size="100">M</text>
<text transform="matrix(0 -0.59960 0.69590 0 96.18 568.63)" font-family='"Liberation Serif", serif' font-style="normal" font-size="100">(</text>
<text transform="matrix(0 -0.65394 0.69507 0 96.32 546.28)" font-family='"Liberation Serif", serif' font-style="normal" font-size="100">G</text>
<text transform="matrix(0 -0.66736 0.63207 0 96.38 499.01)" font-family='"Liberation Serif", serif' font-style="normal" font-size="100">e</text>
<text transform="matrix(0 -0.64027 0.67620 0 95.98 469.62)" font-family='"Liberation Serif", serif' font-style="normal" font-size="100">V</text>
<text transform="matrix(0 -0.59960 0.69590 0 96.18 421.83)" font-family='"Liberation Serif", serif' font-style="normal" font-size="100">)</text>
<text transform="matrix(0 -0.69818 0.64279 0 1701.00 792.71)" font-family='"Liberation Serif", serif' font-style="italic" font-size="100">k</text>
<text transform="matrix(0 -0.48954 0.46886 0 1710.70 758.73)" font-family='"Liberation Serif", serif' font-style="italic" font-size="100">M</text>
<path transform="matrix(0.000000 -0.030557 -0.030530 0.000000 1699.79 714.58)" d="M55 4Q55 40 80.5 102.0Q106 164 137 164Q139 164 143 162Q174 131 216.5 112.5Q259 94 301 94Q345 94 402.5 204.0Q460 314 512.0 453.5Q564 593 586 662Q623 774 654.5 889.5Q686 1005 709.5 1119.0Q733 1233 750 1358Q750 1370 764 1384Q784 1405 817 1425Q844 1438 877 1444H891Q905 1437 907 1430Q942 1220 985.5 1012.5Q1029 805 1085.5 610.5Q1142 416 1210 279Q1382 443 1524 602Q1640 733 1729.5 837.0Q1819 941 1891.5 1026.5Q1964 1112 2070.0 1239.0Q2176 1366 2222 1423Q2241 1444 2253 1444Q2269 1444 2269 1409Q2269 1381 2257 1339Q2166 889 2126 422Q2120 352 2120 281Q2120 203 2130 111Q2133 69 2179 61Q2235 92 2273 96H2286Q2300 89 2300 80Q2300 39 2199.0 -10.0Q2098 -59 2048 -59H2036Q1972 -59 1954.5 14.5Q1937 88 1937 193Q1937 477 2036 1047Q1898 882 1811.5 779.5Q1725 677 1637.5 576.5Q1550 476 1447.5 366.0Q1345 256 1266 178Q1168 75 1147 70H1133Q1098 87 1036.5 233.5Q975 380 950 465Q902 634 863.0 794.0Q824 954 788 1128Q771 1038 711.0 829.5Q651 621 572.0 408.0Q493 195 404.5 46.5Q316 -102 236 -102Q185 -102 120.0 -71.5Q55 -41 55 4Z"/>
<text transform="matrix(0 -0.49740 0.44748 0 1675.70 634.42)" font-family='"Liberation Serif", serif' font-style="italic" font-size="100">M</text>
<text transform="matrix(0 -0.59960 0.69590 0 1701.18 568.63)" font-family='"Liberation Serif", serif' font-style="normal" font-size="100">(</text>
<text transform="matrix(0 -0.65394 0.69507 0 1701.32 546.28)" font-family='"Liberation Serif", serif' font-style="normal" font-size="100">G</text>
<text transform="matrix(0 -0.66736 0.63207 0 1701.38 499.01)" font-family='"Liberation Serif", serif' font-style="normal" font-size="100">e</text>
<text transform="matrix(0 -0.64027 0.67620 0 1700.98 469.62)" font-family='"Liberation Serif", serif' font-style="normal" font-size="100">V</text>
<text transform="matrix(0 -0.59960 0.69590 0 1701.18 421.83)" font-family='"Liberation Serif", serif' font-style="normal" font-size="100">)</text>
<text transform="matrix(0 -0.65164 0.63414 0 75.00 2361.18)" font-family='"Liberation Serif", serif' font-style="italic" font-size="100">k</text>
<text transform="matrix(0 -0.37495 0.45747 0 85.40 2329.70)" font-family='"Liberation Serif", serif' font-style="normal" font-size="100">1</text>
<text transform="matrix(0 -0.48730 0.47802 0 85.40 2307.63)" font-family='"Liberation Serif", serif' font-style="italic" font-size="100">M</text>
<text transform="matrix(0 -0.65164 0.63414 0 75.00 2260.08)" font-family='"Liberation Serif", serif' font-style="italic" font-size="100">k</text>
<text transform="matrix(0 -0.46648 0.44857 0 85.40 2228.45)" font-family='"Liberation Serif", serif' font-style="normal" font-size="100">2</text>
<text transform="matrix(0 -0.40516 0.43373 0 84.60 2197.40)" font-family='"Liberation Serif", serif' font-style="italic" font-size="100">N</text>
<path transform="matrix(0.000000 -0.030512 -0.030401 0.000000 73.90 2167.08)" d="M55 4Q55 40 80.5 102.0Q106 164 137 164Q139 164 143 162Q174 131 216.5 112.5Q259 94 301 94Q345 94 402.5 204.0Q460 314 512.0 453.5Q564 593 586 662Q623 774 654.5 889.5Q686 1005 709.5 1119.0Q733 1233 750 1358Q750 1370 764 1384Q784 1405 817 1425Q844 1438 877 1444H891Q905 1437 907 1430Q942 1220 985.5 1012.5Q1029 805 1085.5 610.5Q1142 416 1210 279Q1382 443 1524 602Q1640 733 1729.5 837.0Q1819 941 1891.5 1026.5Q1964 1112 2070.0 1239.0Q2176 1366 2222 1423Q2241 1444 2253 1444Q2269 1444 2269 1409Q2269 1381 2257 1339Q2166 889 2126 422Q2120 352 2120 281Q2120 203 2130 111Q2133 69 2179 61Q2235 92 2273 96H2286Q2300 89 2300 80Q2300 39 2199.0 -10.0Q2098 -59 2048 -59H2036Q1972 -59 1954.5 14.5Q1937 88 1937 193Q1937 477 2036 1047Q1898 882 1811.5 779.5Q1725 677 1637.5 576.5Q1550 476 1447.5 366.0Q1345 256 1266 178Q1168 75 1147 70H1133Q1098 87 1036.5 233.5Q975 380 950 465Q902 634 863.0 794.0Q824 954 788 1128Q771 1038 711.0 829.5Q651 621 572.0 408.0Q493 195 404.5 46.5Q316 -102 236 -102Q185 -102 120.0 -71.5Q55 -41 55 4Z"/>
<text transform="matrix(0 -0.48954 0.48107 0 52.30 2086.33)" font-family='"Liberation Serif", serif' font-style="italic" font-size="100">M</text>
<text transform="matrix(0 -0.43846 0.46580 0 52.30 2038.98)" font-family='"Liberation Serif", serif' font-style="italic" font-size="100">N</text>
<text transform="matrix(0 -0.58403 0.69149 0 75.28 1985.57)" font-family='"Liberation Serif", serif' font-style="normal" font-size="100">(</text>
<text transform="matrix(0 -0.71506 0.68419 0 76.00 1964.29)" font-family='"Liberation Serif", serif' font-style="normal" font-size="100">T</text>
<text transform="matrix(0 -0.66736 0.62376 0 75.39 1920.71)" font-family='"Liberation Serif", serif' font-style="normal" font-size="100">e</text>
<text transform="matrix(0 -0.63884 0.66426 0 74.99 1891.12)" font-family='"Liberation Serif", serif' font-style="normal" font-size="100">V</text>
<text transform="matrix(0 -0.60739 0.69259 0 75.26 1843.36)" font-family='"Liberation Serif", serif' font-style="normal" font-size="100">)</text>
<text transform="matrix(0 -0.45151 0.44706 0 50.80 1818.08)" font-family='"Liberation Serif", serif' font-style="normal" font-size="100">2</text>
<text transform="matrix(0 -0.65164 0.63414 0 1693.80 2409.58)" font-family='"Liberation Serif", serif' font-style="italic" font-size="100">k</text>
<text transform="matrix(0 -0.37495 0.45747 0 1704.20 2378.10)" font-family='"Liberation Serif", serif' font-style="normal" font-size="100">1</text>
<text transform="matrix(0 -0.48730 0.47802 0 1704.20 2356.03)" font-family='"Liberation Serif", serif' font-style="italic" font-size="100">M</text>
<text transform="matrix(0 -0.65164 0.63414 0 1693.80 2308.48)" font-family='"Liberation Serif", serif' font-style="italic" font-size="100">k</text>
<text transform="matrix(0 -0.46648 0.44857 0 1704.20 2276.85)" font-family='"Liberation Serif", serif' font-style="normal" font-size="100">2</text>
<text transform="matrix(0 -0.40516 0.43373 0 1703.40 2245.80)" font-family='"Liberation Serif", serif' font-style="italic" font-size="100">N</text>
<path transform="matrix(0.000000 -0.030512 -0.030401 0.000000 1692.70 2215.48)" d="M55 4Q55 40 80.5 102.0Q106 164 137 164Q139 164 143 162Q174 131 216.5 112.5Q259 94 301 94Q345 94 402.5 204.0Q460 314 512.0 453.5Q564 593 586 662Q623 774 654.5 889.5Q686 1005 709.5 1119.0Q733 1233 750 1358Q750 1370 764 1384Q784 1405 817 1425Q844 1438 877 1444H891Q905 1437 907 1430Q942 1220 985.5 1012.5Q1029 805 1085.5 610.5Q1142 416 1210 279Q1382 443 1524 602Q1640 733 1729.5 837.0Q1819 941 1891.5 1026.5Q1964 1112 2070.0 1239.0Q2176 1366 2222 1423Q2241 1444 2253 1444Q2269 1444 2269 1409Q2269 1381 2257 1339Q2166 889 2126 422Q2120 352 2120 281Q2120 203 2130 111Q2133 69 2179 61Q2235 92 2273 96H2286Q2300 89 2300 80Q2300 39 2199.0 -10.0Q2098 -59 2048 -59H2036Q1972 -59 1954.5 14.5Q1937 88 1937 193Q1937 477 2036 1047Q1898 882 1811.5 779.5Q1725 677 1637.5 576.5Q1550 476 1447.5 366.0Q1345 256 1266 178Q1168 75 1147 70H1133Q1098 87 1036.5 233.5Q975 380 950 465Q902 634 863.0 794.0Q824 954 788 1128Q771 1038 711.0 829.5Q651 621 572.0 408.0Q493 195 404.5 46.5Q316 -102 236 -102Q185 -102 120.0 -71.5Q55 -41 55 4Z"/>
<text transform="matrix(0 -0.48954 0.48107 0 1671.10 2134.73)" font-family='"Liberation Serif", serif' font-style="italic" font-size="100">M</text>
<text transform="matrix(0 -0.43846 0.46580 0 1671.10 2087.38)" font-family='"Liberation Serif", serif' font-style="italic" font-size="100">N</text>
<text transform="matrix(0 -0.58403 0.69149 0 1694.08 2033.97)" font-family='"Liberation Serif", serif' font-style="normal" font-size="100">(</text>
<text transform="matrix(0 -0.59935 0.65893 0 1694.80 2014.07)" font-family='"Liberation Serif", serif' font-style="normal" font-size="100">1</text>
<text transform="matrix(0 -0.65829 0.65945 0 1694.16 1984.41)" font-family='"Liberation Serif", serif' font-style="normal" font-size="100">0</text>
<text transform="matrix(0 -0.65829 0.65945 0 1694.16 1951.71)" font-family='"Liberation Serif", serif' font-style="normal" font-size="100">0</text>
<text transform="matrix(0 -0.65087 0.67572 0 1694.14 1922.07)" font-family='"Liberation Serif", serif' font-style="normal" font-size="100">G</text>
<text transform="matrix(0 -0.67546 0.62376 0 1694.19 1871.14)" font-family='"Liberation Serif", serif' font-style="normal" font-size="100">e</text>
<text transform="matrix(0 -0.64598 0.66426 0 1693.79 1841.33)" font-family='"Liberation Serif", serif' font-style="normal" font-size="100">V</text>
<text transform="matrix(0 -0.59960 0.69259 0 1694.06 1794.43)" font-family='"Liberation Serif", serif' font-style="normal" font-size="100">)</text>
<text transform="matrix(0 -0.43155 0.44706 0 1669.60 1767.50)" font-family='"Liberation Serif", serif' font-style="normal" font-size="100">2</text>
<text transform="matrix(0.57496 0 0 0.64644 831.62 1243.17)" font-family='"Liberation Serif", serif' font-style="italic" font-size="100">δ</text>
<text transform="matrix(0.43155 0 0 0.44253 866.20 1219.10)" font-family='"Liberation Serif", serif' font-style="normal" font-size="100">2</text>
<text transform="matrix(0.45269 0 0 0.44800 887.93 1219.46)" font-family='"Liberation Serif", serif' font-style="normal" font-size="100">3</text>
<text transform="matrix(0.62176 0 0 0.46722 857.40 1259.49)" font-family='"Liberation Serif", serif' font-style="italic" font-size="100" stroke="#fff" stroke-width="1.48">W</text>
<text transform="matrix(0.57073 0 0 0.46722 901.94 1259.49)" font-family='"Liberation Serif", serif' font-style="italic" font-size="100" stroke="#fff" stroke-width="1.55">W</text>
<text transform="matrix(0.51851 0 0 0.45687 941.83 1260.20)" font-family='"Liberation Serif", serif' font-style="italic" font-size="100" stroke="#fff" stroke-width="1.23">h</text>
<text transform="matrix(0.57496 0 0 0.64644 2437.52 1243.17)" font-family='"Liberation Serif", serif' font-style="italic" font-size="100">δ</text>
<text transform="matrix(0.43025 0 0 0.44515 2472.36 1219.10)" font-family='"Liberation Serif", serif' font-style="normal" font-size="100">4</text>
<text transform="matrix(0.62650 0 0 0.46722 2462.87 1259.49)" font-family='"Liberation Serif", serif' font-style="italic" font-size="100" stroke="#fff" stroke-width="1.48">W</text>
<text transform="matrix(0.57073 0 0 0.46722 2507.84 1259.49)" font-family='"Liberation Serif", serif' font-style="italic" font-size="100" stroke="#fff" stroke-width="1.55">W</text>
<text transform="matrix(0.52088 0 0 0.45687 2548.02 1260.20)" font-family='"Liberation Serif", serif' font-style="italic" font-size="100" stroke="#fff" stroke-width="1.23">h</text>
<text transform="matrix(0.57496 0 0 0.64644 811.22 2723.77)" font-family='"Liberation Serif", serif' font-style="italic" font-size="100">δ</text>
<text transform="matrix(0.43155 0 0 0.44253 845.80 2699.70)" font-family='"Liberation Serif", serif' font-style="normal" font-size="100">2</text>
<text transform="matrix(0.45269 0 0 0.44800 867.53 2700.06)" font-family='"Liberation Serif", serif' font-style="normal" font-size="100">3</text>
<text transform="matrix(0.62176 0 0 0.46722 837.00 2740.09)" font-family='"Liberation Serif", serif' font-style="italic" font-size="100" stroke="#fff" stroke-width="1.48">W</text>
<text transform="matrix(0.57073 0 0 0.46722 881.54 2740.09)" font-family='"Liberation Serif", serif' font-style="italic" font-size="100" stroke="#fff" stroke-width="1.55">W</text>
<text transform="matrix(0.51851 0 0 0.45687 921.43 2740.80)" font-family='"Liberation Serif", serif' font-style="italic" font-size="100" stroke="#fff" stroke-width="1.23">h</text>
<text transform="matrix(0.57496 0 0 0.64644 2444.72 2723.77)" font-family='"Liberation Serif", serif' font-style="italic" font-size="100">δ</text>
<text transform="matrix(0.43025 0 0 0.44515 2479.56 2699.70)" font-family='"Liberation Serif", serif' font-style="normal" font-size="100">4</text>
<text transform="matrix(0.62650 0 0 0.46722 2470.07 2740.09)" font-family='"Liberation Serif", serif' font-style="italic" font-size="100" stroke="#fff" stroke-width="1.48">W</text>
<text transform="matrix(0.57073 0 0 0.46722 2515.04 2740.09)" font-family='"Liberation Serif", serif' font-style="italic" font-size="100" stroke="#fff" stroke-width="1.55">W</text>
<text transform="matrix(0.52088 0 0 0.45687 2555.22 2740.80)" font-family='"Liberation Serif", serif' font-style="italic" font-size="100" stroke="#fff" stroke-width="1.23">h</text>
<text transform="matrix(0.77092 0 0 0.92529 759.61 1369.30)" font-family='"Liberation Serif", serif' font-style="normal" font-size="100" stroke="#fff" stroke-width="0.71">(</text>
<text transform="matrix(0.95438 0 0 0.80166 787.34 1368.02)" font-family='"Liberation Serif", serif' font-style="normal" font-size="100" stroke="#fff" stroke-width="1.14">a</text>
<text transform="matrix(0.77092 0 0 0.92529 830.72 1369.30)" font-family='"Liberation Serif", serif' font-style="normal" font-size="100" stroke="#fff" stroke-width="0.71">)</text>
<text transform="matrix(0.74756 0 0 0.92529 2363.41 1369.30)" font-family='"Liberation Serif", serif' font-style="normal" font-size="100" stroke="#fff" stroke-width="0.72">(</text>
<text transform="matrix(0.89844 0 0 0.83711 2392.70 1367.98)" font-family='"Liberation Serif", serif' font-style="normal" font-size="100" stroke="#fff" stroke-width="1.15">b</text>
<text transform="matrix(0.75924 0 0 0.92529 2438.95 1369.30)" font-family='"Liberation Serif", serif' font-style="normal" font-size="100" stroke="#fff" stroke-width="0.72">)</text>
<text transform="matrix(0.76313 0 0 0.92529 747.95 2850.00)" font-family='"Liberation Serif", serif' font-style="normal" font-size="100" stroke="#fff" stroke-width="0.71">(</text>
<text transform="matrix(0.86667 0 0 0.79841 775.00 2848.72)" font-family='"Liberation Serif", serif' font-style="normal" font-size="100" stroke="#fff" stroke-width="1.20">c</text>
<text transform="matrix(0.75924 0 0 0.92529 815.05 2850.00)" font-family='"Liberation Serif", serif' font-style="normal" font-size="100" stroke="#fff" stroke-width="0.72">)</text>
<text transform="matrix(0.74756 0 0 0.92529 2369.61 2850.00)" font-family='"Liberation Serif", serif' font-style="normal" font-size="100" stroke="#fff" stroke-width="0.72">(</text>
<text transform="matrix(0.90112 0 0 0.83711 2397.04 2848.68)" font-family='"Liberation Serif", serif' font-style="normal" font-size="100" stroke="#fff" stroke-width="1.15">d</text>
<text transform="matrix(0.74756 0 0 0.92529 2445.99 2850.00)" font-family='"Liberation Serif", serif' font-style="normal" font-size="100" stroke="#fff" stroke-width="0.72">)</text>
</svg></body></html>
